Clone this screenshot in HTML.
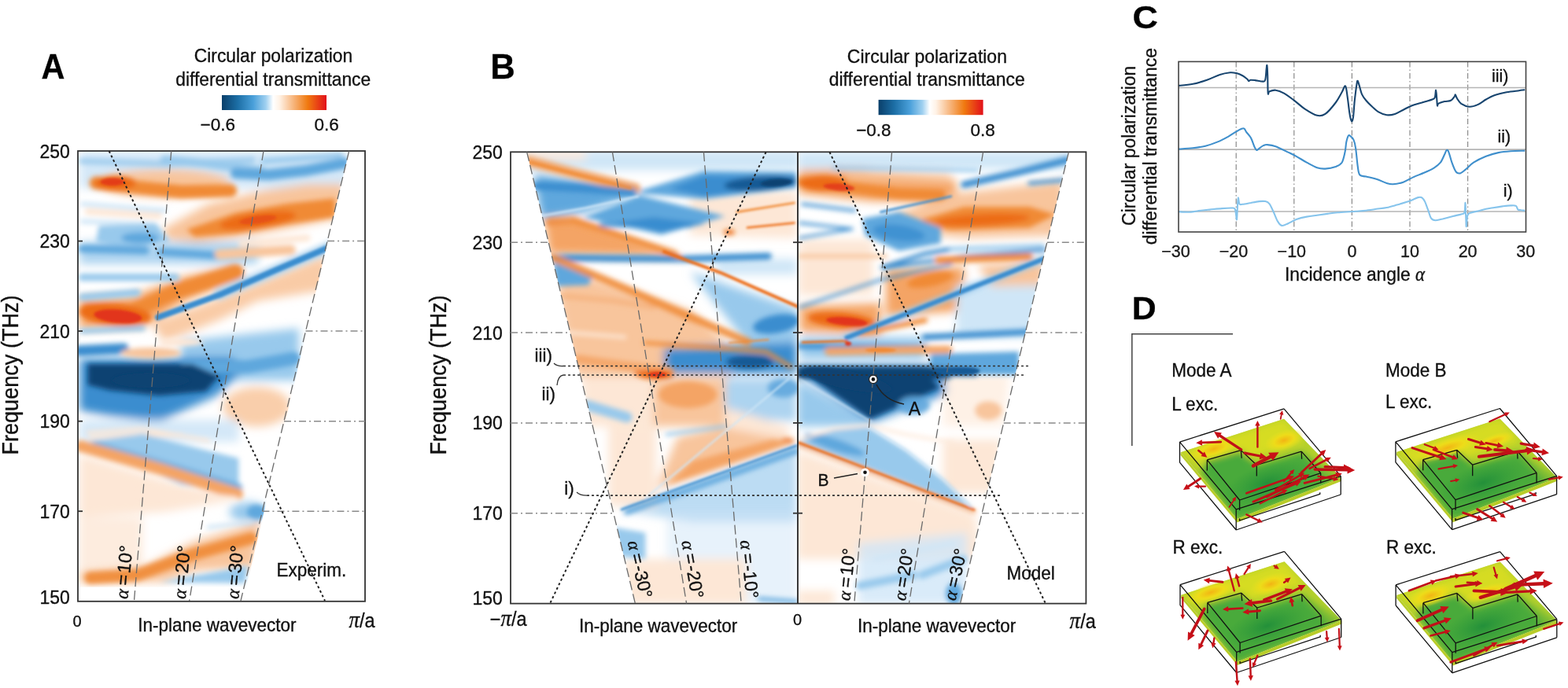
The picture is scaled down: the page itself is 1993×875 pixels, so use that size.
<!DOCTYPE html>
<html><head><meta charset="utf-8"><title>Figure</title>
<style>html,body{margin:0;padding:0;background:#fff;} svg{display:block;} text{stroke:#111;stroke-width:0.32px;}</style></head>
<body><svg width="1993" height="875" viewBox="0 0 1993 875">
<rect width="1993" height="875" fill="#fff"/>
<defs>
<filter id="fb0" filterUnits="userSpaceOnUse" x="0" y="0" width="1993" height="875"><feGaussianBlur stdDeviation="6"/></filter>
<filter id="fb1" filterUnits="userSpaceOnUse" x="0" y="0" width="1993" height="875"><feGaussianBlur stdDeviation="3.2"/></filter>
<filter id="fb2" filterUnits="userSpaceOnUse" x="0" y="0" width="1993" height="875"><feGaussianBlur stdDeviation="1.6"/></filter>
<clipPath id="clipA"><polygon points="99,192 443.7,192 312.9,746.8 99,746.8"/></clipPath>
<clipPath id="clipBL"><polygon points="669.6,193.3 1014,193.3 1014,767.6 807.4,767.6"/></clipPath>
<clipPath id="clipBR"><polygon points="1014,193.3 1358.4,193.3 1220.6,767.6 1014,767.6"/></clipPath>
</defs>
<g clip-path="url(#clipA)">
<g filter="url(#fb0)"><polygon points="101.1,192.3 442.8,192.3 442.8,239.7 101.1,239.7" fill="#cfe6f7" fill-opacity="0.9"/><ellipse cx="209.2" cy="232.8" rx="83.7" ry="18.1" fill="#f8c59c" fill-opacity="1" transform="rotate(0 209.2 232.8)"/><polygon points="205.7,292.0 265.0,259.3 334.7,242.5 390.5,234.2 437.9,234.2 437.9,276.0 390.5,285.8 320.8,299.7 251.0,308.1 212.7,303.9" fill="#f8c59c" fill-opacity="1"/><polygon points="101.1,307.4 327.8,307.4 327.8,336.0 101.1,336.0" fill="#98c9ec" fill-opacity="0.8"/><polygon points="101.1,379.2 167.4,376.4 230.1,352.7 299.9,337.4 310.3,352.7 237.1,382.0 181.3,415.5 101.1,418.3" fill="#f4a465" fill-opacity="1"/><polygon points="191.8,410.6 278.9,379.2 414.9,323.4 414.9,368.7 327.8,382.7 278.9,407.1 209.2,435.0" fill="#f8c59c" fill-opacity="0.9"/><polygon points="230.1,433.6 380.1,417.6 380.1,483.8 230.1,483.8" fill="#98c9ec" fill-opacity="1"/><polygon points="101.1,455.9 296.4,454.5 303.3,476.8 275.5,503.3 202.2,536.1 139.5,529.1 101.1,522.2" fill="#3a8dcf" fill-opacity="1"/><ellipse cx="326.4" cy="517.3" rx="43.2" ry="25.1" fill="#f8c59c" fill-opacity="0.85" transform="rotate(0 326.4 517.3)"/><polygon points="101.1,534.0 303.3,534.0 303.3,561.9 101.1,561.9" fill="#cfe6f7" fill-opacity="0.9"/><polygon points="101.1,577.9 209.2,610.7 299.9,635.8 209.2,651.2 101.1,658.1" fill="#fde7d6" fill-opacity="1"/><polygon points="101.1,658.1 181.3,658.1 181.3,724.4 101.1,724.4" fill="#fde7d6" fill-opacity="0.8"/><ellipse cx="315.2" cy="651.2" rx="23.7" ry="12.6" fill="#98c9ec" fill-opacity="1" transform="rotate(0 315.2 651.2)"/><polygon points="101.1,726.5 181.3,722.3 244.1,689.5 331.2,661.6 322.2,722.3 251.0,725.8 209.2,739.7 101.1,741.8" fill="#f8c59c" fill-opacity="1"/></g>
<g filter="url(#fb1)"><polyline points="104.6,204.9 209.2,208.4 320.8,203.5" fill="none" stroke="#98c9ec" stroke-width="8.368200836820083" stroke-opacity="0.8" stroke-linecap="round" stroke-linejoin="round"/><polyline points="209.2,203.5 260.1,207.7 331.9,217.4" fill="none" stroke="#98c9ec" stroke-width="11.157601115760112" stroke-opacity="1" stroke-linecap="round" stroke-linejoin="round"/><polyline points="299.9,220.2 341.7,222.3 390.5,216.7 437.9,207.7" fill="none" stroke="#5fa7dd" stroke-width="13.94700139470014" stroke-opacity="1" stroke-linecap="round" stroke-linejoin="round"/><polyline points="334.7,204.9 432.4,197.9" fill="none" stroke="#98c9ec" stroke-width="6.97350069735007" stroke-opacity="1" stroke-linecap="round" stroke-linejoin="round"/><polyline points="122.0,232.8 174.3,238.3 230.1,243.9 292.9,242.5" fill="none" stroke="#f08a35" stroke-width="16.736401673640167" stroke-opacity="1" stroke-linecap="round" stroke-linejoin="round"/><ellipse cx="146.4" cy="232.8" rx="26.5" ry="9.1" fill="#ec6c14" fill-opacity="1" transform="rotate(0 146.4 232.8)"/><polygon points="237.1,292.0 299.9,270.4 362.6,259.3 425.4,252.3 425.4,276.0 362.6,285.8 299.9,296.9 247.6,301.1" fill="#f08a35" fill-opacity="1"/><ellipse cx="327.8" cy="280.2" rx="48.8" ry="9.8" fill="#ec6c14" fill-opacity="1" transform="rotate(-8 327.8 280.2)"/><polyline points="104.6,259.3 209.2,267.6" fill="none" stroke="#cfe6f7" stroke-width="5.578800557880056" stroke-opacity="1" stroke-linecap="round" stroke-linejoin="round"/><polyline points="104.6,281.6 195.3,285.1" fill="none" stroke="#cfe6f7" stroke-width="5.578800557880056" stroke-opacity="1" stroke-linecap="round" stroke-linejoin="round"/><polyline points="111.6,269.0 202.2,274.6" fill="none" stroke="#fde7d6" stroke-width="8.368200836820083" stroke-opacity="1" stroke-linecap="round" stroke-linejoin="round"/><polygon points="125.5,287.2 198.7,284.4 216.2,307.4 163.9,316.4 122.0,308.1" fill="#98c9ec" fill-opacity="1"/><ellipse cx="177.8" cy="302.5" rx="23.7" ry="7.0" fill="#5fa7dd" fill-opacity="1" transform="rotate(0 177.8 302.5)"/><polyline points="104.6,316.4 184.8,318.5" fill="none" stroke="#5fa7dd" stroke-width="9.762900976290098" stroke-opacity="1" stroke-linecap="round" stroke-linejoin="round"/><polyline points="205.7,320.6 275.5,324.8" fill="none" stroke="#5fa7dd" stroke-width="9.762900976290098" stroke-opacity="1" stroke-linecap="round" stroke-linejoin="round"/><polyline points="278.9,323.4 369.6,317.8" fill="none" stroke="#f8c59c" stroke-width="12.552301255230127" stroke-opacity="1" stroke-linecap="round" stroke-linejoin="round"/><polyline points="306.8,309.5 390.5,302.5" fill="none" stroke="#fde7d6" stroke-width="8.368200836820083" stroke-opacity="1" stroke-linecap="round" stroke-linejoin="round"/><polyline points="104.6,352.7 223.2,352.7" fill="none" stroke="#98c9ec" stroke-width="9.762900976290098" stroke-opacity="1" stroke-linecap="round" stroke-linejoin="round"/><polyline points="104.6,377.8 174.3,372.2" fill="none" stroke="#98c9ec" stroke-width="9.762900976290098" stroke-opacity="1" stroke-linecap="round" stroke-linejoin="round"/><polyline points="111.6,394.5 167.4,396.6 223.2,370.8 299.9,345.7" fill="none" stroke="#f08a35" stroke-width="18.13110181311018" stroke-opacity="1" stroke-linecap="round" stroke-linejoin="round"/><ellipse cx="146.4" cy="400.1" rx="46.0" ry="13.9" fill="#ec6c14" fill-opacity="1" transform="rotate(5 146.4 400.1)"/><polyline points="278.9,373.6 348.7,344.3 421.9,313.0" fill="none" stroke="#98c9ec" stroke-width="15.341701534170154" stroke-opacity="0.7" stroke-linecap="round" stroke-linejoin="round"/><polyline points="101.1,446.2 156.9,443.4" fill="none" stroke="#3a8dcf" stroke-width="13.94700139470014" stroke-opacity="1" stroke-linecap="round" stroke-linejoin="round"/><polyline points="104.6,421.0 181.3,417.6" fill="none" stroke="#98c9ec" stroke-width="6.97350069735007" stroke-opacity="1" stroke-linecap="round" stroke-linejoin="round"/><ellipse cx="191.8" cy="448.9" rx="38.4" ry="7.0" fill="#f8c59c" fill-opacity="1" transform="rotate(0 191.8 448.9)"/><ellipse cx="230.1" cy="435.0" rx="27.9" ry="4.9" fill="#fde7d6" fill-opacity="1" transform="rotate(0 230.1 435.0)"/><polyline points="237.1,466.4 313.8,466.4 373.1,455.9" fill="none" stroke="#5fa7dd" stroke-width="16.736401673640167" stroke-opacity="1" stroke-linecap="round" stroke-linejoin="round"/><polygon points="111.6,462.9 244.1,462.9 278.9,478.2 261.5,497.8 202.2,503.3 139.5,496.4 111.6,489.4" fill="#0a4272" fill-opacity="1"/><polyline points="115.1,557.0 174.3,552.1 230.1,553.5" fill="none" stroke="#fde7d6" stroke-width="4.881450488145049" stroke-opacity="1" stroke-linecap="round" stroke-linejoin="round"/><polygon points="106.7,561.9 181.3,552.1 303.3,582.8 303.3,628.2 230.1,616.3" fill="#98c9ec" fill-opacity="1"/><polyline points="122.0,566.1 209.2,591.2 303.3,619.8" fill="none" stroke="#5fa7dd" stroke-width="9.762900976290098" stroke-opacity="0.9" stroke-linecap="round" stroke-linejoin="round"/><polyline points="111.6,550.1 181.3,545.2 265.0,560.5" fill="none" stroke="#fde7d6" stroke-width="4.184100418410042" stroke-opacity="1" stroke-linecap="round" stroke-linejoin="round"/><polyline points="103.2,567.5 209.2,598.2 301.3,628.2" fill="none" stroke="#f4a465" stroke-width="15.341701534170154" stroke-opacity="1" stroke-linecap="round" stroke-linejoin="round"/><polyline points="181.3,626.8 278.9,631.6 299.9,633.7" fill="none" stroke="#fde7d6" stroke-width="5.578800557880056" stroke-opacity="1" stroke-linecap="round" stroke-linejoin="round"/><ellipse cx="326.4" cy="651.2" rx="12.6" ry="9.1" fill="#5fa7dd" fill-opacity="1" transform="rotate(0 326.4 651.2)"/><polyline points="265.0,670.7 320.8,663.7" fill="none" stroke="#cfe6f7" stroke-width="4.881450488145049" stroke-opacity="1" stroke-linecap="round" stroke-linejoin="round"/><polyline points="115.1,734.9 174.3,731.4 244.1,705.6 319.4,684.6" fill="none" stroke="#f08a35" stroke-width="15.341701534170154" stroke-opacity="0.9" stroke-linecap="round" stroke-linejoin="round"/><polygon points="202.2,740.4 315.2,719.5 311.7,741.8" fill="#98c9ec" fill-opacity="1"/></g>
<g filter="url(#fb2)"><ellipse cx="143.0" cy="231.4" rx="15.3" ry="4.9" fill="#e2361a" fill-opacity="0.9" transform="rotate(0 143.0 231.4)"/><ellipse cx="327.8" cy="279.5" rx="23.7" ry="4.9" fill="#e2361a" fill-opacity="0.5" transform="rotate(-8 327.8 279.5)"/><ellipse cx="149.9" cy="402.2" rx="30.7" ry="8.4" fill="#e2361a" fill-opacity="1" transform="rotate(5 149.9 402.2)"/><polyline points="200.8,403.6 278.9,375.0 348.7,344.3 421.9,313.0" fill="none" stroke="#3a8dcf" stroke-width="7.670850767085077" stroke-opacity="1" stroke-linecap="round" stroke-linejoin="round"/><ellipse cx="191.8" cy="483.8" rx="48.8" ry="9.8" fill="#0a4272" fill-opacity="0.9" transform="rotate(0 191.8 483.8)"/></g>
</g>
<g clip-path="url(#clipBL)">
<g filter="url(#fb0)"><polygon points="664.9,191.7 1016.4,191.7 1016.4,216.5 664.9,216.5" fill="#cfe6f7" fill-opacity="1"/><polygon points="668.2,193.3 744.5,193.3 744.5,203.3 668.2,203.3" fill="#fde7d6" fill-opacity="1"/><polygon points="678.2,221.5 744.5,229.8 810.8,243.1 810.8,248.0 744.5,269.6 688.1,277.9" fill="#5fa7dd" fill-opacity="1"/><polygon points="877.1,246.4 1013.0,243.1 1013.0,302.7 877.1,299.4" fill="#fde7d6" fill-opacity="1"/><polygon points="691.4,276.9 727.9,276.9 863.8,326.6 698.1,323.3" fill="#f4a465" fill-opacity="1"/><polygon points="708.0,339.2 877.1,395.6 930.1,442.0 930.1,478.5 731.2,478.5 711.3,388.9" fill="#f8c59c" fill-opacity="1"/><polygon points="877.1,345.8 1013.7,392.9 1013.7,437.0 950.0,437.0" fill="#98c9ec" fill-opacity="1"/><polygon points="910.3,329.3 1013.0,329.3 1013.0,349.2 910.3,349.2" fill="#cfe6f7" fill-opacity="1"/><polygon points="843.9,442.0 1013.0,435.4 1013.0,475.1 843.9,475.1" fill="#3a8dcf" fill-opacity="1"/><polygon points="739.4,478.4 830.5,478.4 830.5,542.5 742.8,542.5" fill="#fde7d6" fill-opacity="1"/><polygon points="830.5,481.7 921.6,481.7 921.6,542.5 830.5,542.5" fill="#f8c59c" fill-opacity="1"/><polygon points="921.6,481.7 1012.6,481.7 1012.6,535.7 921.6,532.3" fill="#98c9ec" fill-opacity="0.8"/><polygon points="921.6,518.8 1002.5,542.5 1002.5,566.1 921.6,562.7" fill="#fde7d6" fill-opacity="1"/><polygon points="833.9,621.7 1010.9,561.0 914.8,542.5 860.9,555.9" fill="#f8c59c" fill-opacity="1"/><polygon points="790.0,648.7 1012.6,566.1 1012.6,663.9 881.1,663.9" fill="#98c9ec" fill-opacity="0.65"/><polygon points="847.4,650.4 1012.6,650.4 1012.6,768.4 847.4,768.4" fill="#cfe6f7" fill-opacity="0.5"/><polygon points="773.2,542.5 833.9,542.5 833.9,643.6 773.2,643.6" fill="#fde7d6" fill-opacity="1"/><polygon points="793.4,711.1 948.5,711.1 948.5,768.4 793.4,768.4" fill="#fde7d6" fill-opacity="1"/></g>
<g filter="url(#fb1)"><polyline points="671.5,204.9 727.9,219.8 807.5,239.7" fill="none" stroke="#f4a465" stroke-width="13.26259946949602" stroke-opacity="1" stroke-linecap="round" stroke-linejoin="round"/><polyline points="681.5,236.4 744.5,239.7 804.2,244.7" fill="none" stroke="#3a8dcf" stroke-width="9.946949602122016" stroke-opacity="1" stroke-linecap="round" stroke-linejoin="round"/><polygon points="813.4,242.4 894.7,217.2 1012.0,218.8 1012.0,238.7 894.7,253.3 813.4,246.0" fill="#5fa7dd" fill-opacity="1"/><polygon points="850.6,239.7 894.7,223.2 1012.0,224.8 1012.0,236.4 894.7,249.7" fill="#3a8dcf" fill-opacity="1"/><ellipse cx="966.6" cy="233.1" rx="46.4" ry="9.3" fill="#135a95" fill-opacity="1" transform="rotate(-4 966.6 233.1)"/><polygon points="741.2,276.5 813.4,248.4 921.9,274.9 840.6,298.4" fill="#5fa7dd" fill-opacity="1"/><polygon points="784.3,282.8 830.7,276.2 897.0,284.5 840.6,295.4" fill="#3a8dcf" fill-opacity="1"/><polyline points="764.4,286.2 877.1,286.2" fill="none" stroke="#3a8dcf" stroke-width="6.63129973474801" stroke-opacity="0.8" stroke-linecap="round" stroke-linejoin="round"/><ellipse cx="926.8" cy="295.4" rx="7.3" ry="3.3" fill="#ec6c14" fill-opacity="1" transform="rotate(0 926.8 295.4)"/><polyline points="698.1,282.8 727.9,281.2 857.2,322.6" fill="none" stroke="#f08a35" stroke-width="8.620689655172415" stroke-opacity="0.8" stroke-linecap="round" stroke-linejoin="round"/><polyline points="701.4,327.6 777.6,328.6 870.5,329.3 976.6,325.9" fill="none" stroke="#3a8dcf" stroke-width="8.620689655172415" stroke-opacity="1" stroke-linecap="round" stroke-linejoin="round"/><polyline points="727.9,278.9 863.8,325.9" fill="none" stroke="#f08a35" stroke-width="4.641909814323608" stroke-opacity="1" stroke-linecap="round" stroke-linejoin="round"/><polygon points="703.0,332.6 754.4,349.2 747.8,362.4 706.3,364.1" fill="#5fa7dd" fill-opacity="1"/><polyline points="708.0,375.7 777.6,382.3 830.7,390.6" fill="none" stroke="#f4a465" stroke-width="6.63129973474801" stroke-opacity="0.5" stroke-linecap="round" stroke-linejoin="round"/><polyline points="703.0,327.6 810.8,374.0 950.0,434.7" fill="none" stroke="#f08a35" stroke-width="9.946949602122016" stroke-opacity="0.9" stroke-linecap="round" stroke-linejoin="round"/><ellipse cx="986.5" cy="412.1" rx="29.8" ry="11.6" fill="#3a8dcf" fill-opacity="1" transform="rotate(-10 986.5 412.1)"/><polyline points="820.1,436.0 925.8,443.6 973.9,447.6 1005.1,466.5" fill="none" stroke="#f08a35" stroke-width="4.641909814323608" stroke-opacity="1" stroke-linecap="round" stroke-linejoin="round"/><ellipse cx="953.4" cy="460.2" rx="29.8" ry="8.3" fill="#135a95" fill-opacity="1" transform="rotate(0 953.4 460.2)"/><polyline points="734.5,456.9 794.2,465.2 850.6,472.5" fill="none" stroke="#f4a465" stroke-width="11.273209549071618" stroke-opacity="0.9" stroke-linecap="round" stroke-linejoin="round"/><polyline points="711.3,422.1 794.2,428.7" fill="none" stroke="#fde7d6" stroke-width="4.641909814323608" stroke-opacity="1" stroke-linecap="round" stroke-linejoin="round"/><ellipse cx="830.7" cy="475.1" rx="24.9" ry="4.6" fill="#ec6c14" fill-opacity="1" transform="rotate(0 830.7 475.1)"/><ellipse cx="833.9" cy="477.7" rx="21.9" ry="4.7" fill="#ec6c14" fill-opacity="1" transform="rotate(0 833.9 477.7)"/><polyline points="746.2,515.5 796.8,530.6" fill="none" stroke="#98c9ec" stroke-width="13.49072512647555" stroke-opacity="1" stroke-linecap="round" stroke-linejoin="round"/><ellipse cx="874.3" cy="502.0" rx="37.1" ry="16.9" fill="#f4a465" fill-opacity="1" transform="rotate(0 874.3 502.0)"/><ellipse cx="995.8" cy="493.5" rx="20.2" ry="11.8" fill="#5fa7dd" fill-opacity="0.9" transform="rotate(0 995.8 493.5)"/><ellipse cx="1000.8" cy="561.0" rx="8.4" ry="3.4" fill="#ec6c14" fill-opacity="1" transform="rotate(0 1000.8 561.0)"/><polyline points="847.4,552.6 921.6,542.5" fill="none" stroke="#98c9ec" stroke-width="4.0472175379426645" stroke-opacity="1" stroke-linecap="round" stroke-linejoin="round"/><polygon points="847.4,616.7 1009.2,562.0 982.3,559.3 881.1,586.3" fill="#f4a465" fill-opacity="1"/><polyline points="796.8,651.1 1012.6,573.5" fill="none" stroke="#5fa7dd" stroke-width="7.419898819561552" stroke-opacity="1" stroke-linecap="round" stroke-linejoin="round"/><polygon points="779.9,670.6 820.4,677.4 820.4,711.1 786.7,707.7" fill="#98c9ec" fill-opacity="1"/><polyline points="965.4,761.7 1012.6,765.1" fill="none" stroke="#5fa7dd" stroke-width="4.7217537942664425" stroke-opacity="1" stroke-linecap="round" stroke-linejoin="round"/></g>
<g filter="url(#fb2)"><polyline points="674.8,206.6 744.5,224.8 800.8,239.1" fill="none" stroke="#f08a35" stroke-width="4.641909814323608" stroke-opacity="0.7" stroke-linecap="round" stroke-linejoin="round"/><polyline points="688.1,274.5 744.5,264.6 810.8,249.7" fill="none" stroke="#cfe6f7" stroke-width="2.6525198938992043" stroke-opacity="1" stroke-linecap="round" stroke-linejoin="round"/><ellipse cx="986.5" cy="232.4" rx="19.9" ry="4.6" fill="#0a4272" fill-opacity="1" transform="rotate(-4 986.5 232.4)"/><polyline points="936.8,269.6 1009.7,258.0" fill="none" stroke="#f08a35" stroke-width="2.6525198938992043" stroke-opacity="1" stroke-linecap="round" stroke-linejoin="round"/><polyline points="950.0,289.5 1009.7,283.5" fill="none" stroke="#ec6c14" stroke-width="2.6525198938992043" stroke-opacity="1" stroke-linecap="round" stroke-linejoin="round"/><polyline points="843.9,320.0 869.8,329.9 915.9,346.8 1013.7,389.9" fill="none" stroke="#ec6c14" stroke-width="3.9787798408488064" stroke-opacity="1" stroke-linecap="round" stroke-linejoin="round"/><polyline points="926.8,436.0 976.6,432.0" fill="none" stroke="#f08a35" stroke-width="1.9893899204244032" stroke-opacity="1" stroke-linecap="round" stroke-linejoin="round"/><ellipse cx="835.6" cy="475.8" rx="11.6" ry="2.7" fill="#e2361a" fill-opacity="1" transform="rotate(0 835.6 475.8)"/><ellipse cx="835.6" cy="477.0" rx="11.8" ry="2.4" fill="#e2361a" fill-opacity="1" transform="rotate(0 835.6 477.0)"/><polyline points="790.0,648.0 1012.6,566.7" fill="none" stroke="#3a8dcf" stroke-width="2.69814502529511" stroke-opacity="1" stroke-linecap="round" stroke-linejoin="round"/><polyline points="1002.5,481.7 820.4,633.5" fill="none" stroke="#cfe6f7" stroke-width="2.0236087689713322" stroke-opacity="1" stroke-linecap="round" stroke-linejoin="round"/></g>
</g>
<g clip-path="url(#clipBR)">
<g filter="url(#fb0)"><polygon points="1013.3,193.3 1361.5,193.3 1361.5,214.9 1013.3,214.9" fill="#cfe6f7" fill-opacity="1"/><polygon points="1015.0,216.5 1092.9,214.9 1215.6,229.8 1215.6,256.3 1109.5,256.3 1015.0,246.4" fill="#f4a465" fill-opacity="1"/><polygon points="1076.3,215.9 1208.9,219.8 1208.9,233.1 1076.3,229.8" fill="#f8c59c" fill-opacity="0.8"/><polygon points="1136.0,272.9 1208.9,246.4 1351.5,229.8 1351.5,299.4 1225.5,302.7 1159.2,296.1" fill="#f8c59c" fill-opacity="1"/><polygon points="1015.0,304.4 1109.5,304.4 1109.5,375.7 1015.0,375.7" fill="#fde7d6" fill-opacity="1"/><polygon points="1126.0,342.5 1225.5,339.2 1225.5,395.6 1126.0,402.2" fill="#f4a465" fill-opacity="1"/><polygon points="1016.6,388.9 1119.4,385.6 1119.4,425.4 1016.6,422.1" fill="#f4a465" fill-opacity="1"/><polygon points="1215.6,362.4 1325.0,355.8 1325.0,428.7 1215.6,428.7" fill="#cfe6f7" fill-opacity="1"/><polygon points="1242.1,337.5 1326.6,330.9 1326.6,362.4 1262.0,364.1" fill="#f8c59c" fill-opacity="1"/><polygon points="1016.6,428.7 1175.8,428.7 1175.8,456.9 1016.6,456.9" fill="#98c9ec" fill-opacity="1"/><polygon points="1013.4,464.9 1198.9,464.9 1203.9,500.3 1107.8,537.4 1013.4,475.0" fill="#3a8dcf" fill-opacity="1"/><polygon points="1013.4,483.4 1107.8,535.7 1107.8,542.5 1013.4,542.5" fill="#98c9ec" fill-opacity="1"/><polygon points="1198.9,475.0 1283.2,475.0 1276.4,542.5 1198.9,542.5" fill="#fde7d6" fill-opacity="0.6"/><polygon points="1013.4,572.8 1239.3,653.8 1246.1,711.1 1013.4,711.1" fill="#fde7d6" fill-opacity="1"/><polygon points="1198.9,559.3 1273.1,559.3 1266.3,626.8 1198.9,626.8" fill="#fde7d6" fill-opacity="1"/><polygon points="1090.9,690.9 1229.2,677.4 1229.2,768.4 1090.9,768.4" fill="#cfe6f7" fill-opacity="0.8"/><polygon points="1013.4,751.6 1060.6,751.6 1060.6,770.1 1013.4,770.1" fill="#fde7d6" fill-opacity="1"/></g>
<g filter="url(#fb1)"><polyline points="1059.7,213.2 1159.2,214.9 1242.1,216.5" fill="none" stroke="#98c9ec" stroke-width="3.9787798408488064" stroke-opacity="1" stroke-linecap="round" stroke-linejoin="round"/><polyline points="1225.5,234.8 1291.8,219.8 1358.1,203.3" fill="none" stroke="#3a8dcf" stroke-width="8.620689655172415" stroke-opacity="1" stroke-linecap="round" stroke-linejoin="round"/><polyline points="1308.4,233.1 1351.5,229.1" fill="none" stroke="#3a8dcf" stroke-width="4.641909814323608" stroke-opacity="1" stroke-linecap="round" stroke-linejoin="round"/><polyline points="1019.9,231.4 1076.3,238.1 1142.6,246.4 1195.7,248.0" fill="none" stroke="#f08a35" stroke-width="13.26259946949602" stroke-opacity="1" stroke-linecap="round" stroke-linejoin="round"/><ellipse cx="1046.5" cy="233.1" rx="29.8" ry="9.3" fill="#ec6c14" fill-opacity="1" transform="rotate(0 1046.5 233.1)"/><polygon points="1159.2,282.8 1225.5,262.9 1308.4,262.9 1341.6,272.9 1308.4,289.5 1208.9,292.8" fill="#f08a35" fill-opacity="1"/><ellipse cx="1248.7" cy="279.5" rx="59.7" ry="7.3" fill="#ec6c14" fill-opacity="1" transform="rotate(-3 1248.7 279.5)"/><polyline points="1019.9,259.6 1086.3,267.9" fill="none" stroke="#3a8dcf" stroke-width="3.9787798408488064" stroke-opacity="1" stroke-linecap="round" stroke-linejoin="round"/><polyline points="1016.6,283.5 1082.9,291.1" fill="none" stroke="#3a8dcf" stroke-width="3.315649867374005" stroke-opacity="1" stroke-linecap="round" stroke-linejoin="round"/><polyline points="1016.6,302.7 1082.9,291.1" fill="none" stroke="#3a8dcf" stroke-width="3.315649867374005" stroke-opacity="1" stroke-linecap="round" stroke-linejoin="round"/><polygon points="1096.2,277.9 1142.6,269.6 1195.7,289.5 1195.7,309.4 1142.6,319.3 1099.5,299.4" fill="#5fa7dd" fill-opacity="1"/><ellipse cx="1142.6" cy="296.1" rx="33.2" ry="9.9" fill="#3a8dcf" fill-opacity="0.8" transform="rotate(8 1142.6 296.1)"/><polyline points="1016.6,325.9 1126.0,325.9" fill="none" stroke="#f8c59c" stroke-width="4.641909814323608" stroke-opacity="1" stroke-linecap="round" stroke-linejoin="round"/><polyline points="1122.7,340.9 1225.5,325.9 1328.3,317.7" fill="none" stroke="#3a8dcf" stroke-width="4.641909814323608" stroke-opacity="1" stroke-linecap="round" stroke-linejoin="round"/><polyline points="1016.6,390.6 1119.4,355.8 1208.9,335.9" fill="none" stroke="#3a8dcf" stroke-width="3.315649867374005" stroke-opacity="1" stroke-linecap="round" stroke-linejoin="round"/><polyline points="1076.3,429.4 1175.8,389.6 1242.1,363.1 1326.6,329.3" fill="none" stroke="#98c9ec" stroke-width="11.273209549071618" stroke-opacity="0.7" stroke-linecap="round" stroke-linejoin="round"/><polyline points="1192.4,330.9 1308.4,326.6" fill="none" stroke="#f08a35" stroke-width="8.620689655172415" stroke-opacity="1" stroke-linecap="round" stroke-linejoin="round"/><ellipse cx="1182.4" cy="355.8" rx="29.8" ry="8.3" fill="#f08a35" fill-opacity="1" transform="rotate(-12 1182.4 355.8)"/><ellipse cx="1069.7" cy="407.2" rx="43.1" ry="9.9" fill="#ec6c14" fill-opacity="1" transform="rotate(5 1069.7 407.2)"/><polyline points="1092.9,423.8 1175.8,407.2" fill="none" stroke="#f08a35" stroke-width="6.63129973474801" stroke-opacity="1" stroke-linecap="round" stroke-linejoin="round"/><polyline points="1122.1,339.9 1175.8,322.6 1208.9,316.7" fill="none" stroke="#3a8dcf" stroke-width="5.305039787798409" stroke-opacity="1" stroke-linecap="round" stroke-linejoin="round"/><polyline points="1208.9,316.7 1325.0,312.7" fill="none" stroke="#98c9ec" stroke-width="5.305039787798409" stroke-opacity="1" stroke-linecap="round" stroke-linejoin="round"/><polyline points="1175.8,428.7 1308.4,422.1" fill="none" stroke="#3a8dcf" stroke-width="7.957559681697613" stroke-opacity="1" stroke-linecap="round" stroke-linejoin="round"/><polyline points="1016.6,440.3 1175.8,442.0" fill="none" stroke="#3a8dcf" stroke-width="6.63129973474801" stroke-opacity="1" stroke-linecap="round" stroke-linejoin="round"/><polyline points="1053.1,447.0 1142.6,445.3 1205.6,444.6" fill="none" stroke="#f4a465" stroke-width="9.946949602122016" stroke-opacity="1" stroke-linecap="round" stroke-linejoin="round"/><polygon points="1182.4,450.3 1295.1,447.0 1295.1,476.8 1182.4,476.8" fill="#5fa7dd" fill-opacity="1"/><polygon points="1013.3,466.5 1199.0,466.5 1208.9,481.8 1013.3,481.8" fill="#0a4272" fill-opacity="1"/><polygon points="1195.7,467.9 1242.1,467.9 1242.1,478.5 1195.7,478.5" fill="#135a95" fill-opacity="1"/><polygon points="1023.5,466.2 1171.9,466.2 1193.8,493.5 1106.1,533.0 1023.5,475.0" fill="#0a4272" fill-opacity="1"/><ellipse cx="1161.8" cy="515.5" rx="20.2" ry="11.8" fill="#5fa7dd" fill-opacity="0.9" transform="rotate(0 1161.8 515.5)"/><ellipse cx="1256.2" cy="522.2" rx="16.9" ry="11.8" fill="#f8c59c" fill-opacity="1" transform="rotate(0 1256.2 522.2)"/><polygon points="1016.7,561.3 1060.6,547.2 1103.4,543.1 1151.7,572.8 1198.9,609.9 1237.3,647.7 1144.9,611.6 1077.5,585.6 1016.7,562.7" fill="#98c9ec" fill-opacity="1"/><ellipse cx="1060.6" cy="565.4" rx="40.5" ry="7.4" fill="#5fa7dd" fill-opacity="1" transform="rotate(18 1060.6 565.4)"/><polyline points="1016.7,559.3 1060.6,545.2 1104.4,540.8 1151.7,552.6 1212.4,563.4" fill="none" stroke="#fde7d6" stroke-width="3.3726812816188874" stroke-opacity="1" stroke-linecap="round" stroke-linejoin="round"/><polyline points="1015.1,565.4 1077.5,589.0 1144.9,615.0 1238.0,650.4" fill="none" stroke="#f4a465" stroke-width="5.39629005059022" stroke-opacity="0.8" stroke-linecap="round" stroke-linejoin="round"/><polyline points="1093.0,744.8 1161.1,731.3" fill="none" stroke="#98c9ec" stroke-width="10.118043844856661" stroke-opacity="1" stroke-linecap="round" stroke-linejoin="round"/><polyline points="1171.9,731.3 1224.2,711.1" fill="none" stroke="#98c9ec" stroke-width="10.118043844856661" stroke-opacity="1" stroke-linecap="round" stroke-linejoin="round"/><polyline points="1111.2,711.1 1212.4,690.9" fill="none" stroke="#cfe6f7" stroke-width="4.7217537942664425" stroke-opacity="1" stroke-linecap="round" stroke-linejoin="round"/><ellipse cx="1212.4" cy="754.9" rx="10.1" ry="13.5" fill="#5fa7dd" fill-opacity="1" transform="rotate(0 1212.4 754.9)"/></g>
<g filter="url(#fb2)"><ellipse cx="1066.4" cy="238.1" rx="19.9" ry="4.6" fill="#e2361a" fill-opacity="0.8" transform="rotate(5 1066.4 238.1)"/><polyline points="1119.4,269.6 1208.9,249.7" fill="none" stroke="#3a8dcf" stroke-width="2.6525198938992043" stroke-opacity="1" stroke-linecap="round" stroke-linejoin="round"/><polyline points="1076.3,429.4 1175.8,389.6 1242.1,363.1 1326.6,329.3" fill="none" stroke="#3a8dcf" stroke-width="5.968169761273209" stroke-opacity="1" stroke-linecap="round" stroke-linejoin="round"/><ellipse cx="1076.3" cy="408.8" rx="26.5" ry="5.3" fill="#e2361a" fill-opacity="1" transform="rotate(5 1076.3 408.8)"/><polyline points="1019.9,435.4 1076.3,433.7" fill="none" stroke="#ec6c14" stroke-width="2.6525198938992043" stroke-opacity="1" stroke-linecap="round" stroke-linejoin="round"/><ellipse cx="1078.0" cy="437.0" rx="4.0" ry="2.7" fill="#e2361a" fill-opacity="1" transform="rotate(0 1078.0 437.0)"/><ellipse cx="1119.4" cy="445.3" rx="19.9" ry="2.7" fill="#f08a35" fill-opacity="1" transform="rotate(0 1119.4 445.3)"/><ellipse cx="1215.6" cy="471.8" rx="29.8" ry="4.6" fill="#135a95" fill-opacity="1" transform="rotate(0 1215.6 471.8)"/><ellipse cx="1077.5" cy="483.4" rx="57.3" ry="11.8" fill="#0a4272" fill-opacity="0.8" transform="rotate(12 1077.5 483.4)"/><polyline points="1016.7,482.4 1107.8,536.4" fill="none" stroke="#cfe6f7" stroke-width="1.6863406408094437" stroke-opacity="1" stroke-linecap="round" stroke-linejoin="round"/><polyline points="1103.4,542.5 1151.7,572.8 1198.9,609.9 1237.3,647.7" fill="none" stroke="#cfe6f7" stroke-width="1.6863406408094437" stroke-opacity="1" stroke-linecap="round" stroke-linejoin="round"/><polyline points="1015.1,563.0 1077.5,586.6 1144.9,612.6 1238.0,648.4" fill="none" stroke="#ec6c14" stroke-width="3.0354131534569984" stroke-opacity="1" stroke-linecap="round" stroke-linejoin="round"/></g>
</g>
<defs><linearGradient id="cbar" x1="0" x2="1" y1="0" y2="0"><stop offset="0" stop-color="#0a3f6a"/><stop offset="0.15" stop-color="#1c6ea5"/><stop offset="0.3" stop-color="#4aa0da"/><stop offset="0.42" stop-color="#9fd0f0"/><stop offset="0.49" stop-color="#ffffff"/><stop offset="0.55" stop-color="#fff2e6"/><stop offset="0.7" stop-color="#f6ae70"/><stop offset="0.82" stop-color="#f07a10"/><stop offset="1" stop-color="#e2101a"/></linearGradient></defs>
<text transform="translate(52.6,100) scale(0.93,1)" font-size="44.5" font-weight="bold" fill="#000" style='font-family:"Liberation Sans", Arial, sans-serif'>A</text>
<text transform="translate(246.8,79.4) scale(1,1.06)" font-size="22.8" text-anchor="start" font-weight="normal" fill="#111" style='font-family:"Liberation Sans", Arial, sans-serif;' >Circular polarization</text>
<text transform="translate(223.3,108.5) scale(1,1.06)" font-size="22.8" text-anchor="start" font-weight="normal" fill="#111" style='font-family:"Liberation Sans", Arial, sans-serif;' >differential transmittance</text>
<rect x="282" y="121" width="133" height="19" fill="url(#cbar)"/>
<text transform="translate(254.5,166.3) scale(1,1.0)" font-size="22.5" text-anchor="start" font-weight="normal" fill="#111" style='font-family:"Liberation Sans", Arial, sans-serif;' >−0.6</text>
<text transform="translate(399.5,166.3) scale(1,1.0)" font-size="22.5" text-anchor="start" font-weight="normal" fill="#111" style='font-family:"Liberation Sans", Arial, sans-serif;' >0.6</text>
<rect x="99" y="192" width="365" height="572.8" fill="none" stroke="#333" stroke-width="1.8"/>
<text transform="translate(88.8,200.5) scale(1,1.0)" font-size="23" text-anchor="end" font-weight="normal" fill="#111" style='font-family:"Liberation Sans", Arial, sans-serif;' >250</text>
<text transform="translate(88.8,315.1) scale(1,1.0)" font-size="23" text-anchor="end" font-weight="normal" fill="#111" style='font-family:"Liberation Sans", Arial, sans-serif;' >230</text>
<line x1="99.0" y1="306.6" x2="105.0" y2="306.6" stroke="#333" stroke-width="1.8" />
<text transform="translate(88.8,429.6) scale(1,1.0)" font-size="23" text-anchor="end" font-weight="normal" fill="#111" style='font-family:"Liberation Sans", Arial, sans-serif;' >210</text>
<line x1="99.0" y1="421.1" x2="105.0" y2="421.1" stroke="#333" stroke-width="1.8" />
<text transform="translate(88.8,544.2) scale(1,1.0)" font-size="23" text-anchor="end" font-weight="normal" fill="#111" style='font-family:"Liberation Sans", Arial, sans-serif;' >190</text>
<line x1="99.0" y1="535.7" x2="105.0" y2="535.7" stroke="#333" stroke-width="1.8" />
<text transform="translate(88.8,658.7) scale(1,1.0)" font-size="23" text-anchor="end" font-weight="normal" fill="#111" style='font-family:"Liberation Sans", Arial, sans-serif;' >170</text>
<line x1="99.0" y1="650.2" x2="105.0" y2="650.2" stroke="#333" stroke-width="1.8" />
<text transform="translate(88.8,767.6) scale(1,1.0)" font-size="23" text-anchor="end" font-weight="normal" fill="#111" style='font-family:"Liberation Sans", Arial, sans-serif;' >150</text>
<text transform="translate(22.9,477) rotate(-90) scale(1,1.085)" font-size="27.1" text-anchor="middle" fill="#111" style='font-family:"Liberation Sans", Arial, sans-serif'>Frequency (THz)</text>
<line x1="416.1" y1="306.6" x2="464.0" y2="306.6" stroke="#8a8a8a" stroke-width="1.5" stroke-dasharray="9 4 2 4" />
<line x1="388.5" y1="421.1" x2="464.0" y2="421.1" stroke="#8a8a8a" stroke-width="1.5" stroke-dasharray="9 4 2 4" />
<line x1="361.0" y1="535.7" x2="464.0" y2="535.7" stroke="#8a8a8a" stroke-width="1.5" stroke-dasharray="9 4 2 4" />
<line x1="333.4" y1="650.2" x2="464.0" y2="650.2" stroke="#8a8a8a" stroke-width="1.5" stroke-dasharray="9 4 2 4" />
<line x1="217.7" y1="192.0" x2="170.5" y2="764.0" stroke="#6a6a6a" stroke-width="1.3" stroke-dasharray="12 5" />
<line x1="335.0" y1="192.0" x2="240.7" y2="764.0" stroke="#6a6a6a" stroke-width="1.3" stroke-dasharray="12 5" />
<line x1="443.7" y1="192.0" x2="306.0" y2="764.0" stroke="#6a6a6a" stroke-width="1.3" stroke-dasharray="12 5" />
<line x1="138.6" y1="192.0" x2="413.0" y2="764.0" stroke="#222" stroke-width="2" stroke-dasharray="3 3.2" />
<text transform="translate(157.5,727.5) rotate(-84.5)" font-size="23.5" text-anchor="middle" dominant-baseline="central" fill="#111" style='font-family:"Liberation Sans", Arial, sans-serif'><tspan font-family="Liberation Serif, serif" font-style="italic">α</tspan> = 10°</text>
<text transform="translate(231.0,727.5) rotate(-84.5)" font-size="23.5" text-anchor="middle" dominant-baseline="central" fill="#111" style='font-family:"Liberation Sans", Arial, sans-serif'><tspan font-family="Liberation Serif, serif" font-style="italic">α</tspan> = 20°</text>
<text transform="translate(298.5,727.5) rotate(-84.5)" font-size="23.5" text-anchor="middle" dominant-baseline="central" fill="#111" style='font-family:"Liberation Sans", Arial, sans-serif'><tspan font-family="Liberation Serif, serif" font-style="italic">α</tspan> = 30°</text>
<text transform="translate(92.5,796.6) scale(1,1.0)" font-size="20" text-anchor="start" font-weight="normal" fill="#111" style='font-family:"Liberation Sans", Arial, sans-serif;' >0</text>
<text transform="translate(175.3,802.5) scale(1,1.06)" font-size="22.5" text-anchor="start" font-weight="normal" fill="#111" style='font-family:"Liberation Sans", Arial, sans-serif;' >In-plane wavevector</text>
<text transform="translate(443.5,798.3) scale(1,1.06)" font-size="23.5" text-anchor="start" font-weight="normal" fill="#111" style='font-family:"Liberation Sans", Arial, sans-serif;' ><tspan font-family="Liberation Serif, serif" font-style="italic" font-size="27">π</tspan>/a</text>
<text transform="translate(351.5,732.8) scale(1,1.06)" font-size="22.5" text-anchor="start" font-weight="normal" fill="#111" style='font-family:"Liberation Sans", Arial, sans-serif;' >Experim.</text>
<text transform="translate(623.2,100) scale(0.98,1)" font-size="44.5" font-weight="bold" fill="#000" style='font-family:"Liberation Sans", Arial, sans-serif'>B</text>
<text transform="translate(1076.8,79.7) scale(1,1.06)" font-size="23" text-anchor="start" font-weight="normal" fill="#111" style='font-family:"Liberation Sans", Arial, sans-serif;' >Circular polarization</text>
<text transform="translate(1053.8,108.7) scale(1,1.06)" font-size="22.9" text-anchor="start" font-weight="normal" fill="#111" style='font-family:"Liberation Sans", Arial, sans-serif;' >differential transmittance</text>
<rect x="1116.6" y="126.9" width="133" height="19.3" fill="url(#cbar)"/>
<text transform="translate(1088.2,172.5) scale(1,1.0)" font-size="22.5" text-anchor="start" font-weight="normal" fill="#111" style='font-family:"Liberation Sans", Arial, sans-serif;' >−0.8</text>
<text transform="translate(1233.5,172.5) scale(1,1.0)" font-size="22.5" text-anchor="start" font-weight="normal" fill="#111" style='font-family:"Liberation Sans", Arial, sans-serif;' >0.8</text>
<rect x="649" y="193.3" width="731.4" height="574.3" fill="none" stroke="#333" stroke-width="1.8"/>
<line x1="1014.0" y1="193.3" x2="1014.0" y2="767.6" stroke="#222" stroke-width="1.8" />
<text transform="translate(638.8,201.8) scale(1,1.0)" font-size="23" text-anchor="end" font-weight="normal" fill="#111" style='font-family:"Liberation Sans", Arial, sans-serif;' >250</text>
<text transform="translate(638.8,316.7) scale(1,1.0)" font-size="23" text-anchor="end" font-weight="normal" fill="#111" style='font-family:"Liberation Sans", Arial, sans-serif;' >230</text>
<text transform="translate(638.8,431.5) scale(1,1.0)" font-size="23" text-anchor="end" font-weight="normal" fill="#111" style='font-family:"Liberation Sans", Arial, sans-serif;' >210</text>
<text transform="translate(638.8,546.4) scale(1,1.0)" font-size="23" text-anchor="end" font-weight="normal" fill="#111" style='font-family:"Liberation Sans", Arial, sans-serif;' >190</text>
<text transform="translate(638.8,661.2) scale(1,1.0)" font-size="23" text-anchor="end" font-weight="normal" fill="#111" style='font-family:"Liberation Sans", Arial, sans-serif;' >170</text>
<text transform="translate(638.8,769.2) scale(1,1.0)" font-size="23" text-anchor="end" font-weight="normal" fill="#111" style='font-family:"Liberation Sans", Arial, sans-serif;' >150</text>
<text transform="translate(567.2,477) rotate(-90) scale(1,1.085)" font-size="27.1" text-anchor="middle" fill="#111" style='font-family:"Liberation Sans", Arial, sans-serif'>Frequency (THz)</text>
<line x1="649.0" y1="308.2" x2="697.2" y2="308.2" stroke="#8a8a8a" stroke-width="1.5" stroke-dasharray="9 4 2 4" />
<line x1="1330.8" y1="308.2" x2="1380.4" y2="308.2" stroke="#8a8a8a" stroke-width="1.5" stroke-dasharray="9 4 2 4" />
<line x1="1008.0" y1="308.2" x2="1020.0" y2="308.2" stroke="#333" stroke-width="1.8" />
<line x1="649.0" y1="423.0" x2="724.7" y2="423.0" stroke="#8a8a8a" stroke-width="1.5" stroke-dasharray="9 4 2 4" />
<line x1="1303.3" y1="423.0" x2="1380.4" y2="423.0" stroke="#8a8a8a" stroke-width="1.5" stroke-dasharray="9 4 2 4" />
<line x1="1008.0" y1="423.0" x2="1020.0" y2="423.0" stroke="#333" stroke-width="1.8" />
<line x1="649.0" y1="537.9" x2="752.3" y2="537.9" stroke="#8a8a8a" stroke-width="1.5" stroke-dasharray="9 4 2 4" />
<line x1="1275.7" y1="537.9" x2="1380.4" y2="537.9" stroke="#8a8a8a" stroke-width="1.5" stroke-dasharray="9 4 2 4" />
<line x1="1008.0" y1="537.9" x2="1020.0" y2="537.9" stroke="#333" stroke-width="1.8" />
<line x1="649.0" y1="652.7" x2="779.8" y2="652.7" stroke="#8a8a8a" stroke-width="1.5" stroke-dasharray="9 4 2 4" />
<line x1="1248.2" y1="652.7" x2="1380.4" y2="652.7" stroke="#8a8a8a" stroke-width="1.5" stroke-dasharray="9 4 2 4" />
<line x1="1008.0" y1="652.7" x2="1020.0" y2="652.7" stroke="#333" stroke-width="1.8" />
<line x1="669.6" y1="193.3" x2="807.4" y2="767.6" stroke="#6a6a6a" stroke-width="1.3" stroke-dasharray="12 5" />
<line x1="778.4" y1="193.3" x2="872.6" y2="767.6" stroke="#6a6a6a" stroke-width="1.3" stroke-dasharray="12 5" />
<line x1="894.4" y1="193.3" x2="942.2" y2="767.6" stroke="#6a6a6a" stroke-width="1.3" stroke-dasharray="12 5" />
<line x1="1133.6" y1="193.3" x2="1085.8" y2="767.6" stroke="#6a6a6a" stroke-width="1.3" stroke-dasharray="12 5" />
<line x1="1249.6" y1="193.3" x2="1155.4" y2="767.6" stroke="#6a6a6a" stroke-width="1.3" stroke-dasharray="12 5" />
<line x1="1358.4" y1="193.3" x2="1220.6" y2="767.6" stroke="#6a6a6a" stroke-width="1.3" stroke-dasharray="12 5" />
<line x1="973.6" y1="193.3" x2="699.0" y2="767.6" stroke="#222" stroke-width="2" stroke-dasharray="3 3.2" />
<line x1="1054.4" y1="193.3" x2="1329.0" y2="767.6" stroke="#222" stroke-width="2" stroke-dasharray="3 3.2" />
<line x1="716.0" y1="465.5" x2="1308.0" y2="465.5" stroke="#333" stroke-width="1.6" stroke-dasharray="3 3" />
<line x1="716.0" y1="477.0" x2="1302.0" y2="477.0" stroke="#333" stroke-width="1.6" stroke-dasharray="3 3" />
<line x1="746.0" y1="630.1" x2="1273.0" y2="630.1" stroke="#333" stroke-width="1.6" stroke-dasharray="3 3" />
<path d="M704,462 Q708,466 716,465.5" fill="none" stroke="#333" stroke-width="1.3"/>
<path d="M708,490 Q709,478 716,477" fill="none" stroke="#333" stroke-width="1.3"/>
<path d="M733,626 Q737,630 746,630.1" fill="none" stroke="#333" stroke-width="1.3"/>
<text transform="translate(679.5,460.0) scale(1,1.06)" font-size="22.5" text-anchor="start" font-weight="normal" fill="#111" style='font-family:"Liberation Sans", Arial, sans-serif;' >iii)</text>
<text transform="translate(688.5,508.7) scale(1,1.06)" font-size="22.5" text-anchor="start" font-weight="normal" fill="#111" style='font-family:"Liberation Sans", Arial, sans-serif;' >ii)</text>
<text transform="translate(717.3,628.5) scale(1,1.06)" font-size="22.5" text-anchor="start" font-weight="normal" fill="#111" style='font-family:"Liberation Sans", Arial, sans-serif;' >i)</text>
<path d="M1114,489 Q1124,509 1149,514" fill="none" stroke="#222" stroke-width="1.6"/>
<line x1="1060" y1="608" x2="1090" y2="602.5" stroke="#222" stroke-width="1.6"/>
<circle cx="1109.9" cy="482.4" r="5.3" fill="#fff" stroke="#222" stroke-width="1.2"/><circle cx="1109.9" cy="482.4" r="2.3" fill="#111"/>
<circle cx="1099.5" cy="600.8" r="5.3" fill="#fff"/><circle cx="1099.5" cy="600.8" r="2.3" fill="#111"/>
<text transform="translate(1154.8,527.6) scale(1,1.06)" font-size="23" text-anchor="start" font-weight="normal" fill="#111" style='font-family:"Liberation Sans", Arial, sans-serif;' >A</text>
<text transform="translate(1039.5,617.5) scale(1,1.06)" font-size="21" text-anchor="start" font-weight="normal" fill="#111" style='font-family:"Liberation Sans", Arial, sans-serif;' >B</text>
<text transform="translate(813.6,724.0) rotate(77)" font-size="23" text-anchor="middle" dominant-baseline="central" fill="#111" style='font-family:"Liberation Sans", Arial, sans-serif'><tspan font-family="Liberation Serif, serif" font-style="italic">α</tspan> = -30°</text>
<text transform="translate(880.6,724.0) rotate(80)" font-size="23" text-anchor="middle" dominant-baseline="central" fill="#111" style='font-family:"Liberation Sans", Arial, sans-serif'><tspan font-family="Liberation Serif, serif" font-style="italic">α</tspan> = -20°</text>
<text transform="translate(952.6,724.0) rotate(84)" font-size="23" text-anchor="middle" dominant-baseline="central" fill="#111" style='font-family:"Liberation Sans", Arial, sans-serif'><tspan font-family="Liberation Serif, serif" font-style="italic">α</tspan> = -10°</text>
<text transform="translate(1075.8,730.5) rotate(-84)" font-size="23" text-anchor="middle" dominant-baseline="central" fill="#111" style='font-family:"Liberation Sans", Arial, sans-serif'><tspan font-family="Liberation Serif, serif" font-style="italic">α</tspan> = 10°</text>
<text transform="translate(1148.3,730.5) rotate(-80.5)" font-size="23" text-anchor="middle" dominant-baseline="central" fill="#111" style='font-family:"Liberation Sans", Arial, sans-serif'><tspan font-family="Liberation Serif, serif" font-style="italic">α</tspan> = 20°</text>
<text transform="translate(1214.0,730.5) rotate(-77)" font-size="23" text-anchor="middle" dominant-baseline="central" fill="#111" style='font-family:"Liberation Sans", Arial, sans-serif'><tspan font-family="Liberation Serif, serif" font-style="italic">α</tspan> = 30°</text>
<text transform="translate(622.8,796.0) scale(1,1.06)" font-size="23.5" text-anchor="start" font-weight="normal" fill="#111" style='font-family:"Liberation Sans", Arial, sans-serif;' >−<tspan font-family="Liberation Serif, serif" font-style="italic" font-size="27">π</tspan>/a</text>
<text transform="translate(736.0,803.5) scale(1,1.06)" font-size="22.5" text-anchor="start" font-weight="normal" fill="#111" style='font-family:"Liberation Sans", Arial, sans-serif;' >In-plane wavevector</text>
<text transform="translate(1008.0,795.0) scale(1,1.0)" font-size="20" text-anchor="start" font-weight="normal" fill="#111" style='font-family:"Liberation Sans", Arial, sans-serif;' >0</text>
<text transform="translate(1090.0,803.5) scale(1,1.06)" font-size="22.5" text-anchor="start" font-weight="normal" fill="#111" style='font-family:"Liberation Sans", Arial, sans-serif;' >In-plane wavevector</text>
<text transform="translate(1359.6,798.5) scale(1,1.06)" font-size="23.5" text-anchor="start" font-weight="normal" fill="#111" style='font-family:"Liberation Sans", Arial, sans-serif;' ><tspan font-family="Liberation Serif, serif" font-style="italic" font-size="27">π</tspan>/a</text>
<text transform="translate(1279.6,736.8) scale(1,1.06)" font-size="22.5" text-anchor="start" font-weight="normal" fill="#111" style='font-family:"Liberation Sans", Arial, sans-serif;' >Model</text>
<text transform="translate(1439.6,35.6) scale(1.12,1)" font-size="40" font-weight="bold" fill="#000" style='font-family:"Liberation Sans", Arial, sans-serif'>C</text>
<line x1="1571.2" y1="78.4" x2="1571.2" y2="295.0" stroke="#8a8a8a" stroke-width="1.2" stroke-dasharray="7 3 1.5 3" />
<line x1="1644.8" y1="78.4" x2="1644.8" y2="295.0" stroke="#8a8a8a" stroke-width="1.2" stroke-dasharray="7 3 1.5 3" />
<line x1="1718.4" y1="78.4" x2="1718.4" y2="295.0" stroke="#8a8a8a" stroke-width="1.2" stroke-dasharray="7 3 1.5 3" />
<line x1="1792.0" y1="78.4" x2="1792.0" y2="295.0" stroke="#8a8a8a" stroke-width="1.2" stroke-dasharray="7 3 1.5 3" />
<line x1="1865.6" y1="78.4" x2="1865.6" y2="295.0" stroke="#8a8a8a" stroke-width="1.2" stroke-dasharray="7 3 1.5 3" />
<line x1="1498.0" y1="111.5" x2="1939.5" y2="111.5" stroke="#b5b5b5" stroke-width="1.6" />
<line x1="1498.0" y1="190.1" x2="1939.5" y2="190.1" stroke="#b5b5b5" stroke-width="1.6" />
<line x1="1498.0" y1="269.0" x2="1939.5" y2="269.0" stroke="#b5b5b5" stroke-width="1.6" />
<path d="M1497.9,108.9 C1501.0,108.6 1510.2,108.0 1516.3,106.8 C1522.4,105.6 1529.0,103.5 1534.7,101.5 C1540.4,99.6 1545.6,96.5 1550.5,95.0 C1555.3,93.4 1560.1,92.7 1563.6,92.3 C1567.1,92.0 1568.9,92.5 1571.5,93.1 C1574.1,93.8 1577.1,95.1 1579.4,96.3 C1581.7,97.5 1583.8,99.4 1585.2,100.5 C1586.5,101.6 1586.6,102.9 1587.3,103.1 C1588.0,103.3 1588.1,102.0 1589.4,101.8 C1590.7,101.6 1592.4,101.8 1595.2,102.1 C1597.9,102.4 1603.5,103.8 1605.7,103.6 C1607.9,103.5 1607.6,103.6 1608.3,101.0 C1609.0,98.5 1609.3,91.4 1609.6,88.4 C1610.0,85.4 1610.1,81.8 1610.4,83.1 C1610.7,84.5 1611.0,90.4 1611.2,96.3 C1611.4,102.2 1611.3,115.3 1611.7,118.6 C1612.1,122.0 1611.9,116.9 1613.6,116.3 C1615.2,115.6 1618.4,114.3 1621.4,114.7 C1624.5,115.1 1628.0,116.4 1632.0,118.6 C1635.9,120.8 1640.7,124.5 1645.1,127.8 C1649.5,131.1 1653.4,135.2 1658.2,138.3 C1663.1,141.5 1669.6,145.7 1674.0,146.8 C1678.4,147.9 1680.6,147.6 1684.5,144.9 C1688.5,142.2 1694.2,135.1 1697.7,130.5 C1701.2,125.9 1703.5,120.8 1705.6,117.3 C1707.6,113.8 1708.8,108.6 1710.0,109.4 C1711.2,110.3 1711.8,116.9 1712.6,122.6 C1713.5,128.3 1714.4,138.3 1715.3,143.6 C1716.1,148.9 1717.1,153.2 1717.9,154.1 C1718.7,155.0 1719.3,153.2 1720.0,148.9 C1720.6,144.5 1721.1,134.8 1721.8,127.8 C1722.6,120.8 1723.8,111.0 1724.5,106.8 C1725.1,102.6 1725.2,102.4 1725.8,102.9 C1726.3,103.3 1727.0,106.6 1727.9,109.4 C1728.8,112.3 1729.6,116.9 1731.0,119.9 C1732.4,123.0 1734.1,125.2 1736.3,127.8 C1738.5,130.5 1741.5,133.3 1744.2,135.7 C1746.8,138.1 1749.0,140.5 1752.1,142.3 C1755.1,144.0 1759.1,145.8 1762.6,146.2 C1766.1,146.7 1769.6,146.0 1773.1,144.9 C1776.6,143.8 1780.1,141.4 1783.6,139.7 C1787.1,137.9 1790.2,135.9 1794.1,134.4 C1798.1,132.9 1802.9,131.8 1807.3,130.5 C1811.6,129.1 1817.6,127.6 1820.4,126.5 C1823.2,125.4 1823.0,125.9 1823.8,123.9 C1824.6,121.9 1824.7,114.5 1825.1,114.7 C1825.5,114.9 1825.9,121.9 1826.2,125.2 C1826.5,128.5 1826.6,133.3 1827.0,134.4 C1827.3,135.5 1826.8,132.7 1828.3,131.8 C1829.8,130.9 1833.6,129.8 1836.2,129.1 C1838.8,128.5 1842.0,128.9 1844.1,127.8 C1846.2,126.7 1847.8,123.8 1848.8,122.6 C1849.8,121.3 1849.3,120.0 1849.9,120.5 C1850.4,120.9 1850.7,123.3 1852.0,125.2 C1853.2,127.1 1854.6,130.0 1857.2,131.8 C1859.8,133.5 1864.2,135.5 1867.7,135.7 C1871.2,135.9 1874.7,134.6 1878.2,133.1 C1881.7,131.6 1885.3,128.5 1888.8,126.5 C1892.3,124.5 1894.9,122.8 1899.3,121.3 C1903.7,119.7 1909.8,118.3 1915.0,117.3 C1920.3,116.3 1927.0,115.7 1930.8,115.2 C1934.7,114.7 1937.0,114.3 1938.2,114.2" fill="none" stroke="#18456f" stroke-width="2.1" stroke-linejoin="round"/>
<path d="M1497.9,189.6 C1501.0,189.4 1510.6,189.0 1516.3,188.3 C1522.0,187.6 1526.8,187.0 1532.1,185.7 C1537.3,184.4 1543.0,182.4 1547.8,180.4 C1552.7,178.4 1557.0,176.0 1561.0,173.8 C1564.9,171.6 1568.6,168.9 1571.5,167.3 C1574.3,165.6 1576.4,164.5 1578.1,163.8 C1579.7,163.2 1580.5,162.9 1581.5,163.6 C1582.5,164.2 1582.7,165.9 1584.1,167.8 C1585.5,169.7 1588.1,172.0 1589.9,175.2 C1591.6,178.4 1593.4,184.4 1594.6,187.0 C1595.9,189.6 1596.3,190.6 1597.3,190.9 C1598.2,191.2 1599.0,189.8 1600.4,188.8 C1601.8,187.9 1603.9,185.9 1605.7,185.1 C1607.4,184.4 1608.3,183.9 1610.9,184.1 C1613.6,184.3 1617.1,184.6 1621.4,186.2 C1625.8,187.8 1632.8,191.5 1637.2,193.6 C1641.6,195.7 1643.8,196.6 1647.7,198.8 C1651.7,201.0 1656.5,204.3 1660.9,206.7 C1665.3,209.1 1670.1,212.0 1674.0,213.3 C1678.0,214.6 1680.6,214.8 1684.5,214.6 C1688.5,214.4 1694.2,213.3 1697.7,212.0 C1701.2,210.6 1703.6,209.8 1705.6,206.7 C1707.5,203.6 1708.5,197.9 1709.5,193.6 C1710.5,189.2 1710.6,183.9 1711.3,180.4 C1712.1,176.9 1713.1,173.7 1713.9,172.5 C1714.8,171.3 1715.5,172.4 1716.6,173.3 C1717.7,174.2 1719.4,175.3 1720.5,177.8 C1721.6,180.3 1722.3,182.6 1723.1,188.3 C1724.0,194.0 1724.9,206.3 1725.8,212.0 C1726.6,217.7 1726.6,220.4 1728.4,222.5 C1730.2,224.6 1732.8,223.7 1736.3,224.6 C1739.8,225.5 1745.1,226.3 1749.4,227.7 C1753.8,229.1 1759.1,231.9 1762.6,233.0 C1766.1,234.1 1767.0,234.5 1770.5,234.3 C1774.0,234.1 1779.2,233.2 1783.6,231.7 C1788.0,230.1 1792.4,227.1 1796.8,225.1 C1801.1,223.1 1805.5,221.8 1809.9,219.8 C1814.3,217.9 1819.5,215.5 1823.0,213.3 C1826.5,211.1 1828.7,209.5 1830.9,206.7 C1833.1,203.9 1834.9,198.8 1836.2,196.2 C1837.5,193.6 1837.9,191.4 1838.8,190.9 C1839.7,190.5 1840.3,190.9 1841.4,193.6 C1842.5,196.2 1843.9,202.5 1845.4,206.7 C1846.9,210.9 1848.9,216.2 1850.6,218.5 C1852.4,220.8 1853.9,220.8 1855.9,220.4 C1857.9,219.9 1859.6,218.2 1862.5,215.9 C1865.3,213.6 1868.6,209.5 1873.0,206.7 C1877.4,203.9 1883.5,200.9 1888.8,198.8 C1894.0,196.7 1899.3,195.2 1904.5,194.1 C1909.8,193.0 1914.7,192.6 1920.3,192.2 C1925.9,191.8 1935.2,191.8 1938.2,191.7" fill="none" stroke="#3f8fcc" stroke-width="2.1" stroke-linejoin="round"/>
<path d="M1497.9,269.3 C1500.1,269.4 1507.1,269.9 1511.0,269.8 C1515.0,269.7 1517.2,269.0 1521.5,268.5 C1525.9,267.9 1532.1,267.2 1537.3,266.6 C1542.6,266.1 1548.3,265.4 1553.1,265.1 C1557.9,264.7 1563.5,264.4 1566.2,264.5 C1569.0,264.7 1568.9,264.5 1569.7,265.8 C1570.4,267.2 1570.6,270.2 1571.0,272.4 C1571.4,274.6 1571.7,281.2 1572.0,279.0 C1572.4,276.8 1572.8,263.9 1573.1,259.3 C1573.4,254.7 1573.5,251.4 1573.9,251.4 C1574.3,251.4 1574.5,257.9 1575.4,259.3 C1576.4,260.7 1577.0,260.0 1579.4,259.8 C1581.8,259.6 1586.4,258.6 1589.9,258.0 C1593.4,257.3 1597.3,256.4 1600.4,256.1 C1603.5,255.8 1606.1,255.6 1608.3,256.1 C1610.5,256.6 1611.8,257.0 1613.6,259.3 C1615.3,261.6 1617.1,266.1 1618.8,269.8 C1620.6,273.5 1622.3,278.8 1624.1,281.6 C1625.8,284.5 1627.1,286.4 1629.3,286.9 C1631.5,287.3 1634.1,285.6 1637.2,284.2 C1640.3,282.9 1643.8,280.4 1647.7,279.0 C1651.7,277.5 1656.5,276.4 1660.9,275.6 C1665.3,274.7 1669.6,274.3 1674.0,273.7 C1678.4,273.1 1682.8,272.5 1687.2,271.9 C1691.5,271.3 1694.3,270.8 1700.3,270.3 C1706.3,269.8 1717.1,269.2 1723.1,268.7 C1729.1,268.3 1731.9,268.2 1736.3,267.7 C1740.7,267.2 1745.1,266.5 1749.4,265.8 C1753.8,265.2 1758.2,264.9 1762.6,264.0 C1767.0,263.1 1771.3,261.8 1775.7,260.6 C1780.1,259.4 1785.4,257.8 1788.9,256.6 C1792.4,255.5 1794.3,254.5 1796.8,253.5 C1799.2,252.5 1801.6,251.2 1803.3,250.9 C1805.1,250.5 1806.0,250.4 1807.3,251.4 C1808.6,252.4 1809.9,254.0 1811.2,256.6 C1812.5,259.3 1813.8,263.7 1815.2,267.2 C1816.5,270.7 1817.6,275.5 1819.1,277.7 C1820.6,279.9 1821.9,280.2 1824.4,280.3 C1826.8,280.4 1829.8,279.3 1833.6,278.5 C1837.3,277.6 1842.8,276.1 1846.7,275.0 C1850.6,274.0 1854.8,273.2 1857.2,272.4 C1859.7,271.6 1860.5,272.7 1861.4,270.3 C1862.3,267.9 1862.2,256.7 1862.5,258.0 C1862.8,259.2 1863.0,272.6 1863.3,277.7 C1863.5,282.7 1863.5,288.6 1863.8,288.2 C1864.1,287.8 1864.4,277.9 1865.1,275.0 C1865.8,272.2 1865.5,272.2 1867.7,271.1 C1869.9,270.0 1874.7,269.4 1878.2,268.5 C1881.7,267.6 1885.3,266.6 1888.8,265.8 C1892.3,265.1 1895.8,264.6 1899.3,264.0 C1902.8,263.4 1906.3,262.9 1909.8,262.4 C1913.3,262.0 1917.5,261.5 1920.3,261.4 C1923.2,261.3 1925.3,261.0 1926.9,261.9 C1928.4,262.8 1928.4,265.8 1929.5,266.6 C1930.6,267.5 1932.0,266.9 1933.4,267.2 C1934.9,267.4 1937.4,267.8 1938.2,267.9" fill="none" stroke="#86c4ec" stroke-width="2.1" stroke-linejoin="round"/>
<rect x="1498" y="78.4" width="441.5" height="216.6" fill="none" stroke="#444" stroke-width="1.6"/>
<text transform="translate(1896.0,103.6) scale(1,1.06)" font-size="21.5" text-anchor="start" font-weight="normal" fill="#111" style='font-family:"Liberation Sans", Arial, sans-serif;' >iii)</text>
<text transform="translate(1903.5,181.0) scale(1,1.06)" font-size="21.5" text-anchor="start" font-weight="normal" fill="#111" style='font-family:"Liberation Sans", Arial, sans-serif;' >ii)</text>
<text transform="translate(1910.8,250.3) scale(1,1.06)" font-size="21.5" text-anchor="start" font-weight="normal" fill="#111" style='font-family:"Liberation Sans", Arial, sans-serif;' >i)</text>
<text transform="translate(1476.3,327.2) scale(1,1.0)" font-size="21.5" text-anchor="start" font-weight="normal" fill="#1a1a1a" style='font-family:"Liberation Sans", Arial, sans-serif;' >−30</text>
<text transform="translate(1549.8,327.2) scale(1,1.0)" font-size="21.5" text-anchor="start" font-weight="normal" fill="#1a1a1a" style='font-family:"Liberation Sans", Arial, sans-serif;' >−20</text>
<text transform="translate(1623.6,327.2) scale(1,1.0)" font-size="21.5" text-anchor="start" font-weight="normal" fill="#1a1a1a" style='font-family:"Liberation Sans", Arial, sans-serif;' >−10</text>
<text transform="translate(1718.4,327.2) scale(1,1.0)" font-size="21.5" text-anchor="middle" font-weight="normal" fill="#1a1a1a" style='font-family:"Liberation Sans", Arial, sans-serif;' >0</text>
<text transform="translate(1792.0,327.2) scale(1,1.0)" font-size="21.5" text-anchor="middle" font-weight="normal" fill="#1a1a1a" style='font-family:"Liberation Sans", Arial, sans-serif;' >10</text>
<text transform="translate(1865.6,327.2) scale(1,1.0)" font-size="21.5" text-anchor="middle" font-weight="normal" fill="#1a1a1a" style='font-family:"Liberation Sans", Arial, sans-serif;' >20</text>
<text transform="translate(1939.2,327.2) scale(1,1.0)" font-size="21.5" text-anchor="middle" font-weight="normal" fill="#1a1a1a" style='font-family:"Liberation Sans", Arial, sans-serif;' >30</text>
<text transform="translate(1633.0,357.2) scale(1,1.06)" font-size="22.8" text-anchor="start" font-weight="normal" fill="#111" style='font-family:"Liberation Sans", Arial, sans-serif;' >Incidence angle <tspan font-family="Liberation Serif, serif" font-style="italic">α</tspan></text>
<text transform="translate(1443.4,185.3) rotate(-90)" font-size="23" text-anchor="middle" fill="#111" style='font-family:"Liberation Sans", Arial, sans-serif'>Circular polarization</text>
<text transform="translate(1469.8,186.1) rotate(-90)" font-size="23" text-anchor="middle" fill="#111" style='font-family:"Liberation Sans", Arial, sans-serif'>differential transmittance</text>

<text transform="translate(1438.8,405.9) scale(1.07,1)" font-size="40" font-weight="bold" fill="#000" style='font-family:"Liberation Sans", Arial, sans-serif'>D</text>
<polyline points="1567,424.7 1438.8,424.7 1438.8,567" fill="none" stroke="#444" stroke-width="1.5"/>
<text transform="translate(1489.2,479.4) scale(1,1.06)" font-size="22.5" text-anchor="start" font-weight="normal" fill="#111" style='font-family:"Liberation Sans", Arial, sans-serif;' >Mode A</text>
<text transform="translate(1761.0,479.4) scale(1,1.06)" font-size="22.5" text-anchor="start" font-weight="normal" fill="#111" style='font-family:"Liberation Sans", Arial, sans-serif;' >Mode B</text>
<text transform="translate(1489.2,521.8) scale(1,1.06)" font-size="22.5" text-anchor="start" font-weight="normal" fill="#111" style='font-family:"Liberation Sans", Arial, sans-serif;' >L exc.</text>
<text transform="translate(1761.0,518.8) scale(1,1.06)" font-size="22.5" text-anchor="start" font-weight="normal" fill="#111" style='font-family:"Liberation Sans", Arial, sans-serif;' >L exc.</text>
<text transform="translate(1490.4,704.0) scale(1,1.06)" font-size="22.5" text-anchor="start" font-weight="normal" fill="#111" style='font-family:"Liberation Sans", Arial, sans-serif;' >R exc.</text>
<text transform="translate(1762.0,704.0) scale(1,1.06)" font-size="22.5" text-anchor="start" font-weight="normal" fill="#111" style='font-family:"Liberation Sans", Arial, sans-serif;' >R exc.</text>
<defs>
<linearGradient id="slabg" gradientUnits="objectBoundingBox" x1="0.15" y1="0.25" x2="0.75" y2="0.85">
<stop offset="0" stop-color="#e8dc1c"/><stop offset="0.28" stop-color="#c6d626"/><stop offset="0.5" stop-color="#62b438"/><stop offset="0.75" stop-color="#34a03a"/><stop offset="1" stop-color="#4aa838"/></linearGradient>
<radialGradient id="yel" cx="0.5" cy="0.5" r="0.5"><stop offset="0" stop-color="#f2b414"/><stop offset="0.5" stop-color="#f0dc18" stop-opacity="0.9"/><stop offset="1" stop-color="#e8e020" stop-opacity="0"/></radialGradient>
<radialGradient id="grn" cx="0.5" cy="0.5" r="0.5"><stop offset="0" stop-color="#23903a"/><stop offset="1" stop-color="#2f9a3a" stop-opacity="0"/></radialGradient>
<filter id="dsoft" x="-20%" y="-20%" width="140%" height="140%"><feGaussianBlur stdDeviation="2"/></filter>
<filter id="dsoft4" filterUnits="userSpaceOnUse" x="1400" y="380" width="593" height="495"><feGaussianBlur stdDeviation="4"/></filter>
</defs>
<g><clipPath id="slabAL"><polygon points="1500.6,575.2 1632.0,532.8 1704.8,607.7 1572.3,659.9"/></clipPath><polygon points="1500.6,575.2 1632.0,532.8 1704.8,607.7 1572.3,659.9" fill="#b4d02c"/><g clip-path="url(#slabAL)"><g filter="url(#dsoft4)"><polygon points="1500.6,575.2 1632.0,532.8 1658.1,562.1 1534.3,596.9" fill="#d6dc20"/><polygon points="1532.1,586.0 1577.3,573.0 1597.3,592.1 1654.2,574.7 1705.9,608.8 1572.3,662.0 1526.7,601.2" fill="#48aa3a"/><polygon points="1654.2,574.7 1705.9,608.8 1688.5,612.1 1671.1,592.5" fill="#7cbc34"/></g></g><polygon points="1500.6,575.2 1572.3,659.9 1704.8,607.7 1704.8,612.1 1572.3,664.6 1500.6,579.1" fill="#b8cc28"/><ellipse cx="1543.0" cy="570.8" rx="32.6" ry="11.9" fill="url(#yel)" transform="rotate(-18 1543.0 570.8)"/><ellipse cx="1632.0" cy="560.0" rx="26.1" ry="13.0" fill="url(#yel)" transform="rotate(-18 1632.0 560.0)"/><ellipse cx="1610.3" cy="614.3" rx="56.5" ry="23.9" fill="url(#grn)" transform="rotate(-18 1610.3 614.3)"/><path d="M1499.5,562.1 L1632.0,519.8 M1632.0,519.8 L1704.2,605.6 M1704.2,605.6 L1571.2,647.9 M1571.2,647.9 L1499.5,562.1 M1499.5,562.1 L1499.5,588.2 M1571.2,647.9 L1571.2,674.0 M1704.2,605.6 L1704.2,629.0 M1499.5,588.2 L1571.2,674.0 M1571.2,674.0 L1704.2,629.0 M1534.3,584.9 L1577.3,572.6 M1577.3,572.6 L1597.3,591.5 M1597.3,591.5 L1654.2,574.1 M1654.2,574.1 L1678.7,601.7 M1678.7,601.7 L1575.6,636.0 M1575.6,636.0 L1534.3,584.9 M1534.3,584.9 L1534.3,598.6 M1575.6,636.0 L1575.6,649.0 M1678.7,601.7 L1678.7,614.7 M1597.3,591.5 L1597.3,605.6 M1577.3,572.6 L1578.2,582.8 M1654.2,574.1 L1654.6,583.8 M1575.6,662.0 L1677.7,628.4 M1575.6,659.4 L1575.6,662.7 M1677.7,626.2 L1677.7,629.0" stroke="#111" stroke-width="1.3" fill="none"/><line x1="1598.4" y1="568.6" x2="1598.4" y2="541.6" stroke="#c01018" stroke-width="2.4" stroke-linecap="round"/><polygon points="1598.4,535.0 1601.6,541.6 1595.2,541.6" fill="#c81018"/><line x1="1577.7" y1="571.9" x2="1550.5" y2="554.0" stroke="#c01018" stroke-width="3.3" stroke-linecap="round"/><polygon points="1543.0,549.1 1552.9,550.4 1548.1,557.7" fill="#c81018"/><line x1="1551.7" y1="562.1" x2="1528.0" y2="562.9" stroke="#c01018" stroke-width="2.9" stroke-linecap="round"/><polygon points="1520.2,563.2 1527.8,559.2 1528.1,566.7" fill="#c81018"/><line x1="1592.9" y1="592.5" x2="1614.9" y2="580.8" stroke="#c01018" stroke-width="4.4" stroke-linecap="round"/><polygon points="1625.5,575.2 1617.7,585.9 1612.2,575.7" fill="#c81018"/><line x1="1582.1" y1="576.2" x2="1601.5" y2="580.0" stroke="#c01018" stroke-width="3.3" stroke-linecap="round"/><polygon points="1610.3,581.7 1600.7,584.2 1602.3,575.7" fill="#c81018"/><line x1="1653.8" y1="601.2" x2="1679.5" y2="577.2" stroke="#c01018" stroke-width="2.9" stroke-linecap="round"/><polygon points="1685.3,571.9 1682.1,580.0 1677.0,574.5" fill="#c81018"/><line x1="1664.6" y1="595.8" x2="1685.4" y2="585.0" stroke="#c01018" stroke-width="2.6" stroke-linecap="round"/><polygon points="1691.8,581.7 1687.0,588.1 1683.8,581.9" fill="#c81018"/><line x1="1671.1" y1="596.9" x2="1712.6" y2="597.8" stroke="#c01018" stroke-width="3.5" stroke-linecap="round"/><polygon points="1722.2,598.0 1712.5,602.4 1712.7,593.1" fill="#c81018"/><line x1="1684.2" y1="593.6" x2="1707.8" y2="594.7" stroke="#c01018" stroke-width="3.3" stroke-linecap="round"/><polygon points="1716.8,595.1 1707.6,599.1 1708.0,590.4" fill="#c81018"/><line x1="1658.1" y1="614.3" x2="1698.3" y2="604.2" stroke="#c01018" stroke-width="2.9" stroke-linecap="round"/><polygon points="1705.9,602.3 1699.2,607.9 1697.4,600.5" fill="#c81018"/><line x1="1584.3" y1="627.3" x2="1638.3" y2="608.0" stroke="#c01018" stroke-width="2.6" stroke-linecap="round"/><polygon points="1645.1,605.6 1639.5,611.3 1637.1,604.7" fill="#c81018"/><line x1="1592.9" y1="638.1" x2="1646.6" y2="615.2" stroke="#c01018" stroke-width="2.9" stroke-linecap="round"/><polygon points="1653.8,612.1 1648.1,618.6 1645.1,611.7" fill="#c81018"/><line x1="1610.3" y1="631.6" x2="1657.2" y2="607.3" stroke="#c01018" stroke-width="3.1" stroke-linecap="round"/><polygon points="1664.6,603.4 1659.0,610.9 1655.3,603.7" fill="#c81018"/><line x1="1621.2" y1="622.9" x2="1651.9" y2="604.9" stroke="#c01018" stroke-width="2.6" stroke-linecap="round"/><polygon points="1658.1,601.2 1653.7,607.9 1650.1,601.9" fill="#c81018"/><line x1="1601.6" y1="640.3" x2="1630.5" y2="625.9" stroke="#c01018" stroke-width="2.4" stroke-linecap="round"/><polygon points="1636.4,622.9 1631.9,628.8 1629.1,623.0" fill="#c81018"/><line x1="1525.6" y1="608.8" x2="1510.4" y2="618.7" stroke="#c01018" stroke-width="2.9" stroke-linecap="round"/><polygon points="1503.9,622.9 1508.4,615.5 1512.5,621.9" fill="#c81018"/><line x1="1532.1" y1="618.6" x2="1524.0" y2="618.6" stroke="#c01018" stroke-width="2.2" stroke-linecap="round"/><polygon points="1518.0,618.6 1524.0,615.7 1524.0,621.5" fill="#c81018"/><line x1="1584.3" y1="654.4" x2="1599.0" y2="661.7" stroke="#c01018" stroke-width="2.4" stroke-linecap="round"/><polygon points="1604.9,664.6 1597.6,664.6 1600.4,658.9" fill="#c81018"/><line x1="1627.7" y1="532.8" x2="1628.8" y2="527.3" stroke="#c01018" stroke-width="1.8" stroke-linecap="round"/><polygon points="1629.9,521.9 1631.3,527.8 1626.2,526.8" fill="#c81018"/><line x1="1523.4" y1="573.0" x2="1528.7" y2="577.2" stroke="#c01018" stroke-width="2.6" stroke-linecap="round"/><polygon points="1534.3,581.7 1526.5,579.9 1530.9,574.5" fill="#c81018"/><line x1="1632.0" y1="612.1" x2="1641.2" y2="601.4" stroke="#c01018" stroke-width="2.2" stroke-linecap="round"/><polygon points="1645.1,596.9 1643.4,603.3 1639.0,599.5" fill="#c81018"/><line x1="1675.5" y1="605.6" x2="1695.0" y2="608.8" stroke="#c01018" stroke-width="2.4" stroke-linecap="round"/><polygon points="1701.5,609.9 1694.5,612.0 1695.6,605.7" fill="#c81018"/><line x1="1562.5" y1="644.7" x2="1568.2" y2="636.2" stroke="#c01018" stroke-width="1.8" stroke-linecap="round"/><polygon points="1571.2,631.6 1570.3,637.7 1566.0,634.8" fill="#c81018"/></g>
<g><clipPath id="slabBL"><polygon points="1775.0,574.9 1906.4,532.5 1979.2,607.4 1846.7,659.6"/></clipPath><polygon points="1775.0,574.9 1906.4,532.5 1979.2,607.4 1846.7,659.6" fill="#b4d02c"/><g clip-path="url(#slabBL)"><g filter="url(#dsoft4)"><polygon points="1775.0,574.9 1906.4,532.5 1932.5,561.8 1808.7,596.6" fill="#d6dc20"/><polygon points="1806.5,585.7 1851.7,572.7 1871.7,591.8 1928.6,574.4 1980.3,608.5 1846.7,661.7 1801.1,600.9" fill="#48aa3a"/><polygon points="1928.6,574.4 1980.3,608.5 1962.9,611.8 1945.5,592.2" fill="#7cbc34"/></g></g><polygon points="1775.0,574.9 1846.7,659.6 1979.2,607.4 1979.2,611.8 1846.7,664.3 1775.0,578.8" fill="#b8cc28"/><ellipse cx="1839.7" cy="569.6" rx="44.6" ry="12.3" fill="url(#yel)" transform="rotate(-18 1839.7 569.6)"/><ellipse cx="1899.9" cy="560.7" rx="26.7" ry="8.9" fill="url(#yel)" transform="rotate(-18 1899.9 560.7)"/><ellipse cx="1884.7" cy="614.0" rx="57.9" ry="24.5" fill="url(#grn)" transform="rotate(-18 1884.7 614.0)"/><path d="M1773.9,561.8 L1906.4,519.5 M1906.4,519.5 L1978.6,605.3 M1978.6,605.3 L1845.6,647.6 M1845.6,647.6 L1773.9,561.8 M1773.9,561.8 L1773.9,587.9 M1845.6,647.6 L1845.6,673.7 M1978.6,605.3 L1978.6,628.7 M1773.9,587.9 L1845.6,673.7 M1845.6,673.7 L1978.6,628.7 M1808.7,584.6 L1851.7,572.3 M1851.7,572.3 L1871.7,591.2 M1871.7,591.2 L1928.6,573.8 M1928.6,573.8 L1953.1,601.4 M1953.1,601.4 L1850.0,635.7 M1850.0,635.7 L1808.7,584.6 M1808.7,584.6 L1808.7,598.3 M1850.0,635.7 L1850.0,648.7 M1953.1,601.4 L1953.1,614.4 M1871.7,591.2 L1871.7,605.3 M1851.7,572.3 L1852.6,582.5 M1928.6,573.8 L1929.0,583.5 M1850.0,661.7 L1952.1,628.1 M1850.0,659.1 L1850.0,662.4 M1952.1,625.9 L1952.1,628.7" stroke="#111" stroke-width="1.3" fill="none"/><line x1="1795.1" y1="569.6" x2="1830.6" y2="581.5" stroke="#c01018" stroke-width="3.1" stroke-linecap="round"/><polygon points="1838.6,584.1 1829.3,585.3 1831.9,577.6" fill="#c81018"/><line x1="1810.7" y1="565.2" x2="1822.9" y2="569.8" stroke="#c01018" stroke-width="2.2" stroke-linecap="round"/><polygon points="1828.5,571.9 1821.9,572.5 1823.9,567.0" fill="#c81018"/><line x1="1866.4" y1="558.5" x2="1881.3" y2="563.2" stroke="#c01018" stroke-width="2.9" stroke-linecap="round"/><polygon points="1888.7,565.6 1880.1,566.8 1882.4,559.7" fill="#c81018"/><line x1="1875.3" y1="568.5" x2="1889.9" y2="570.7" stroke="#c01018" stroke-width="2.9" stroke-linecap="round"/><polygon points="1897.6,571.9 1889.4,574.4 1890.5,567.0" fill="#c81018"/><line x1="1888.7" y1="563.4" x2="1903.4" y2="566.3" stroke="#c01018" stroke-width="2.9" stroke-linecap="round"/><polygon points="1911.0,567.8 1902.6,570.0 1904.1,562.6" fill="#c81018"/><line x1="1899.9" y1="571.9" x2="1914.2" y2="573.2" stroke="#c01018" stroke-width="3.7" stroke-linecap="round"/><polygon points="1924.4,574.1 1913.8,578.1 1914.7,568.3" fill="#c81018"/><line x1="1879.8" y1="580.8" x2="1940.4" y2="573.2" stroke="#c01018" stroke-width="4.0" stroke-linecap="round"/><polygon points="1951.1,571.9 1941.1,578.4 1939.8,568.0" fill="#c81018"/><line x1="1933.3" y1="564.1" x2="1949.0" y2="566.9" stroke="#c01018" stroke-width="3.3" stroke-linecap="round"/><polygon points="1957.8,568.5 1948.2,571.2 1949.7,562.6" fill="#c81018"/><line x1="1940.0" y1="571.9" x2="1960.1" y2="574.9" stroke="#c01018" stroke-width="3.3" stroke-linecap="round"/><polygon points="1969.0,576.3 1959.4,579.2 1960.7,570.6" fill="#c81018"/><line x1="1948.9" y1="583.0" x2="1955.2" y2="583.6" stroke="#c01018" stroke-width="2.2" stroke-linecap="round"/><polygon points="1961.2,584.1 1954.9,586.5 1955.4,580.7" fill="#c81018"/><line x1="1859.7" y1="652.1" x2="1878.0" y2="658.4" stroke="#c01018" stroke-width="2.9" stroke-linecap="round"/><polygon points="1885.4,661.0 1876.8,662.0 1879.2,654.9" fill="#c81018"/><line x1="1877.6" y1="647.6" x2="1896.6" y2="659.5" stroke="#c01018" stroke-width="2.9" stroke-linecap="round"/><polygon points="1903.2,663.7 1894.6,662.7 1898.6,656.3" fill="#c81018"/><line x1="1893.2" y1="643.2" x2="1908.4" y2="654.8" stroke="#c01018" stroke-width="2.4" stroke-linecap="round"/><polygon points="1913.7,658.8 1906.5,657.3 1910.4,652.2" fill="#c81018"/><line x1="1911.0" y1="638.7" x2="1920.4" y2="644.5" stroke="#c01018" stroke-width="2.2" stroke-linecap="round"/><polygon points="1925.5,647.6 1918.9,647.0 1921.9,642.0" fill="#c81018"/><line x1="1928.8" y1="632.0" x2="1935.2" y2="635.7" stroke="#c01018" stroke-width="2.2" stroke-linecap="round"/><polygon points="1940.4,638.7 1933.8,638.2 1936.7,633.2" fill="#c81018"/><line x1="1944.4" y1="626.5" x2="1948.9" y2="628.7" stroke="#c01018" stroke-width="2.0" stroke-linecap="round"/><polygon points="1953.8,631.1 1947.7,631.0 1950.0,626.3" fill="#c81018"/><line x1="1893.2" y1="536.2" x2="1913.3" y2="527.1" stroke="#c01018" stroke-width="2.2" stroke-linecap="round"/><polygon points="1918.8,524.6 1914.5,529.7 1912.1,524.4" fill="#c81018"/><line x1="1969.0" y1="609.7" x2="1980.9" y2="607.5" stroke="#c01018" stroke-width="2.2" stroke-linecap="round"/><polygon points="1986.8,606.4 1981.4,610.4 1980.3,604.7" fill="#c81018"/><line x1="1828.5" y1="596.4" x2="1847.2" y2="593.0" stroke="#c01018" stroke-width="2.2" stroke-linecap="round"/><polygon points="1853.1,591.9 1847.7,595.8 1846.6,590.1" fill="#c81018"/><line x1="1844.1" y1="612.0" x2="1849.9" y2="610.8" stroke="#c01018" stroke-width="1.8" stroke-linecap="round"/><polygon points="1855.3,609.7 1850.4,613.4 1849.4,608.3" fill="#c81018"/><line x1="1821.9" y1="571.9" x2="1846.4" y2="581.5" stroke="#c01018" stroke-width="2.6" stroke-linecap="round"/><polygon points="1853.1,584.1 1845.1,584.7 1847.6,578.2" fill="#c81018"/></g>
<g><clipPath id="slabAR"><polygon points="1501.1,756.7 1632.5,714.3 1705.3,789.2 1572.8,841.4"/></clipPath><polygon points="1501.1,756.7 1632.5,714.3 1705.3,789.2 1572.8,841.4" fill="#b4d02c"/><g clip-path="url(#slabAR)"><g filter="url(#dsoft4)"><polygon points="1501.1,756.7 1632.5,714.3 1658.6,743.6 1534.8,778.4" fill="#d6dc20"/><polygon points="1532.6,767.5 1577.8,754.5 1597.8,773.6 1654.7,756.2 1706.4,790.3 1572.8,843.5 1527.2,782.7" fill="#48aa3a"/><polygon points="1654.7,756.2 1706.4,790.3 1689.0,793.6 1671.6,774.0" fill="#7cbc34"/></g></g><polygon points="1501.1,756.7 1572.8,841.4 1705.3,789.2 1705.3,793.6 1572.8,846.1 1501.1,760.6" fill="#b8cc28"/><ellipse cx="1539.2" cy="753.4" rx="33.8" ry="11.6" fill="url(#yel)" transform="rotate(-18 1539.2 753.4)"/><ellipse cx="1615.3" cy="742.8" rx="27.5" ry="12.7" fill="url(#yel)" transform="rotate(-18 1615.3 742.8)"/><ellipse cx="1610.8" cy="795.8" rx="55.0" ry="23.3" fill="url(#grn)" transform="rotate(-18 1610.8 795.8)"/><path d="M1500.0,743.6 L1632.5,701.3 M1632.5,701.3 L1704.7,787.1 M1704.7,787.1 L1571.7,829.4 M1571.7,829.4 L1500.0,743.6 M1500.0,743.6 L1500.0,769.7 M1571.7,829.4 L1571.7,855.5 M1704.7,787.1 L1704.7,810.5 M1500.0,769.7 L1571.7,855.5 M1571.7,855.5 L1704.7,810.5 M1534.8,766.4 L1577.8,754.1 M1577.8,754.1 L1597.8,773.0 M1597.8,773.0 L1654.7,755.6 M1654.7,755.6 L1679.2,783.2 M1679.2,783.2 L1576.1,817.5 M1576.1,817.5 L1534.8,766.4 M1534.8,766.4 L1534.8,780.1 M1576.1,817.5 L1576.1,830.5 M1679.2,783.2 L1679.2,796.2 M1597.8,773.0 L1597.8,787.1 M1577.8,754.1 L1578.7,764.3 M1654.7,755.6 L1655.1,765.3 M1576.1,843.5 L1678.2,809.9 M1576.1,840.9 L1576.1,844.2 M1678.2,807.7 L1678.2,810.5" stroke="#111" stroke-width="1.3" fill="none"/><line x1="1530.7" y1="774.5" x2="1514.3" y2="805.7" stroke="#c01018" stroke-width="3.7" stroke-linecap="round"/><polygon points="1509.6,814.7 1510.0,803.4 1518.7,808.0" fill="#c81018"/><line x1="1535.0" y1="802.0" x2="1526.7" y2="819.3" stroke="#c01018" stroke-width="2.9" stroke-linecap="round"/><polygon points="1523.3,826.3 1523.3,817.7 1530.1,820.9" fill="#c81018"/><line x1="1543.4" y1="811.5" x2="1542.4" y2="817.7" stroke="#c01018" stroke-width="2.4" stroke-linecap="round"/><polygon points="1541.3,824.2 1539.2,817.2 1545.5,818.2" fill="#c81018"/><line x1="1503.3" y1="759.8" x2="1503.3" y2="781.7" stroke="#c01018" stroke-width="2.2" stroke-linecap="round"/><polygon points="1503.3,787.7 1500.4,781.7 1506.2,781.7" fill="#c81018"/><line x1="1568.8" y1="751.3" x2="1562.0" y2="726.0" stroke="#c01018" stroke-width="2.4" stroke-linecap="round"/><polygon points="1560.3,719.6 1565.1,725.1 1558.9,726.8" fill="#c81018"/><line x1="1575.1" y1="745.4" x2="1572.5" y2="735.5" stroke="#c01018" stroke-width="2.4" stroke-linecap="round"/><polygon points="1570.9,729.1 1575.6,734.7 1569.5,736.3" fill="#c81018"/><line x1="1581.5" y1="730.2" x2="1586.7" y2="722.1" stroke="#c01018" stroke-width="2.2" stroke-linecap="round"/><polygon points="1589.9,717.1 1589.1,723.7 1584.2,720.5" fill="#c81018"/><line x1="1554.0" y1="740.3" x2="1537.4" y2="738.4" stroke="#c01018" stroke-width="2.9" stroke-linecap="round"/><polygon points="1529.7,737.6 1537.8,734.7 1537.0,742.2" fill="#c81018"/><line x1="1579.3" y1="773.5" x2="1561.2" y2="774.6" stroke="#c01018" stroke-width="2.6" stroke-linecap="round"/><polygon points="1554.0,775.0 1561.0,771.1 1561.4,778.0" fill="#c81018"/><line x1="1601.5" y1="776.7" x2="1587.1" y2="778.0" stroke="#c01018" stroke-width="2.9" stroke-linecap="round"/><polygon points="1579.3,778.8 1586.8,774.3 1587.5,781.8" fill="#c81018"/><line x1="1615.3" y1="764.0" x2="1591.6" y2="766.9" stroke="#c01018" stroke-width="3.7" stroke-linecap="round"/><polygon points="1581.5,768.2 1591.0,762.1 1592.2,771.8" fill="#c81018"/><line x1="1606.8" y1="762.9" x2="1634.3" y2="752.4" stroke="#c01018" stroke-width="3.3" stroke-linecap="round"/><polygon points="1642.8,749.2 1635.9,756.5 1632.8,748.3" fill="#c81018"/><line x1="1623.7" y1="761.9" x2="1651.6" y2="747.9" stroke="#c01018" stroke-width="3.3" stroke-linecap="round"/><polygon points="1659.7,743.9 1653.6,751.8 1649.7,744.0" fill="#c81018"/><line x1="1642.8" y1="770.3" x2="1641.9" y2="765.8" stroke="#c01018" stroke-width="2.6" stroke-linecap="round"/><polygon points="1640.6,758.7 1645.4,765.2 1638.5,766.4" fill="#c81018"/><line x1="1588.9" y1="838.0" x2="1589.7" y2="859.3" stroke="#c01018" stroke-width="2.4" stroke-linecap="round"/><polygon points="1589.9,865.9 1586.5,859.4 1592.9,859.1" fill="#c81018"/><line x1="1598.4" y1="833.7" x2="1594.3" y2="843.4" stroke="#c01018" stroke-width="2.2" stroke-linecap="round"/><polygon points="1592.0,849.0 1591.7,842.3 1597.0,844.5" fill="#c81018"/><line x1="1570.9" y1="842.2" x2="1572.5" y2="865.6" stroke="#c01018" stroke-width="2.4" stroke-linecap="round"/><polygon points="1573.0,872.2 1569.4,865.8 1575.7,865.4" fill="#c81018"/><line x1="1686.1" y1="803.1" x2="1686.7" y2="810.8" stroke="#c01018" stroke-width="2.2" stroke-linecap="round"/><polygon points="1687.1,816.8 1683.8,811.1 1689.6,810.6" fill="#c81018"/><line x1="1701.9" y1="799.9" x2="1702.8" y2="821.4" stroke="#c01018" stroke-width="2.2" stroke-linecap="round"/><polygon points="1703.0,827.4 1699.9,821.5 1705.7,821.3" fill="#c81018"/><line x1="1632.2" y1="740.7" x2="1634.9" y2="738.7" stroke="#c01018" stroke-width="2.6" stroke-linecap="round"/><polygon points="1640.6,734.4 1637.0,741.5 1632.8,735.9" fill="#c81018"/><line x1="1619.5" y1="719.6" x2="1620.9" y2="720.5" stroke="#c01018" stroke-width="2.2" stroke-linecap="round"/><polygon points="1625.8,723.8 1619.2,722.9 1622.5,718.1" fill="#c81018"/></g>
<g><clipPath id="slabBR"><polygon points="1775.2,757.0 1906.6,714.6 1979.4,789.5 1846.9,841.7"/></clipPath><polygon points="1775.2,757.0 1906.6,714.6 1979.4,789.5 1846.9,841.7" fill="#b4d02c"/><g clip-path="url(#slabBR)"><g filter="url(#dsoft4)"><polygon points="1775.2,757.0 1906.6,714.6 1932.7,743.9 1808.9,778.7" fill="#d6dc20"/><polygon points="1806.7,767.8 1851.9,754.8 1871.9,773.9 1928.8,756.5 1980.5,790.6 1846.9,843.8 1801.3,783.0" fill="#48aa3a"/><polygon points="1928.8,756.5 1980.5,790.6 1963.1,793.9 1945.7,774.3" fill="#7cbc34"/></g></g><polygon points="1775.2,757.0 1846.9,841.7 1979.4,789.5 1979.4,793.9 1846.9,846.4 1775.2,760.9" fill="#b8cc28"/><ellipse cx="1818.4" cy="757.6" rx="31.7" ry="12.7" fill="url(#yel)" transform="rotate(-18 1818.4 757.6)"/><ellipse cx="1890.3" cy="753.4" rx="31.7" ry="9.5" fill="url(#yel)" transform="rotate(-18 1890.3 753.4)"/><ellipse cx="1884.9" cy="796.1" rx="55.0" ry="23.3" fill="url(#grn)" transform="rotate(-18 1884.9 796.1)"/><path d="M1774.1,743.9 L1906.6,701.6 M1906.6,701.6 L1978.8,787.4 M1978.8,787.4 L1845.8,829.7 M1845.8,829.7 L1774.1,743.9 M1774.1,743.9 L1774.1,770.0 M1845.8,829.7 L1845.8,855.8 M1978.8,787.4 L1978.8,810.8 M1774.1,770.0 L1845.8,855.8 M1845.8,855.8 L1978.8,810.8 M1808.9,766.7 L1851.9,754.4 M1851.9,754.4 L1871.9,773.3 M1871.9,773.3 L1928.8,755.9 M1928.8,755.9 L1953.3,783.5 M1953.3,783.5 L1850.2,817.8 M1850.2,817.8 L1808.9,766.7 M1808.9,766.7 L1808.9,780.4 M1850.2,817.8 L1850.2,830.8 M1953.3,783.5 L1953.3,796.5 M1871.9,773.3 L1871.9,787.4 M1851.9,754.4 L1852.8,764.6 M1928.8,755.9 L1929.2,765.6 M1850.2,843.8 L1952.3,810.2 M1850.2,841.2 L1850.2,844.5 M1952.3,808.0 L1952.3,810.8" stroke="#111" stroke-width="1.3" fill="none"/><line x1="1790.9" y1="751.3" x2="1819.1" y2="740.7" stroke="#c01018" stroke-width="2.6" stroke-linecap="round"/><polygon points="1825.8,738.2 1820.3,744.0 1817.8,737.5" fill="#c81018"/><line x1="1824.8" y1="738.6" x2="1849.9" y2="732.8" stroke="#c01018" stroke-width="2.6" stroke-linecap="round"/><polygon points="1856.9,731.2 1850.6,736.2 1849.1,729.4" fill="#c81018"/><line x1="1843.8" y1="733.3" x2="1871.5" y2="730.0" stroke="#c01018" stroke-width="2.6" stroke-linecap="round"/><polygon points="1878.7,729.1 1871.9,733.4 1871.1,726.5" fill="#c81018"/><line x1="1850.1" y1="746.0" x2="1875.1" y2="742.8" stroke="#c01018" stroke-width="2.9" stroke-linecap="round"/><polygon points="1882.9,741.8 1875.6,746.5 1874.7,739.0" fill="#c81018"/><line x1="1864.9" y1="740.7" x2="1877.2" y2="741.5" stroke="#c01018" stroke-width="2.6" stroke-linecap="round"/><polygon points="1884.4,742.0 1876.9,745.0 1877.4,738.1" fill="#c81018"/><line x1="1873.4" y1="751.3" x2="1907.6" y2="752.9" stroke="#c01018" stroke-width="3.7" stroke-linecap="round"/><polygon points="1917.8,753.4 1907.3,757.9 1907.8,748.0" fill="#c81018"/><line x1="1881.8" y1="759.8" x2="1925.3" y2="746.4" stroke="#c01018" stroke-width="4.4" stroke-linecap="round"/><polygon points="1936.8,742.8 1927.0,751.9 1923.6,740.8" fill="#c81018"/><line x1="1913.5" y1="749.2" x2="1951.7" y2="732.1" stroke="#c01018" stroke-width="4.6" stroke-linecap="round"/><polygon points="1963.2,727.0 1954.2,737.7 1949.2,726.6" fill="#c81018"/><line x1="1924.1" y1="743.9" x2="1961.8" y2="742.3" stroke="#c01018" stroke-width="4.4" stroke-linecap="round"/><polygon points="1973.8,741.8 1962.0,748.1 1961.5,736.5" fill="#c81018"/><line x1="1915.6" y1="753.4" x2="1944.7" y2="751.8" stroke="#c01018" stroke-width="3.3" stroke-linecap="round"/><polygon points="1953.7,751.3 1944.9,756.1 1944.5,747.5" fill="#c81018"/><line x1="1801.5" y1="789.3" x2="1832.4" y2="775.5" stroke="#c01018" stroke-width="3.7" stroke-linecap="round"/><polygon points="1841.7,771.4 1834.4,780.0 1830.3,771.0" fill="#c81018"/><line x1="1810.0" y1="798.9" x2="1836.4" y2="789.2" stroke="#c01018" stroke-width="3.3" stroke-linecap="round"/><polygon points="1844.8,786.2 1837.9,793.3 1834.9,785.2" fill="#c81018"/><line x1="1818.4" y1="808.4" x2="1836.8" y2="803.8" stroke="#c01018" stroke-width="2.6" stroke-linecap="round"/><polygon points="1843.8,802.0 1837.6,807.1 1835.9,800.4" fill="#c81018"/><line x1="1843.8" y1="842.2" x2="1887.6" y2="825.9" stroke="#c01018" stroke-width="2.9" stroke-linecap="round"/><polygon points="1894.9,823.2 1888.9,829.4 1886.3,822.3" fill="#c81018"/><line x1="1873.4" y1="833.7" x2="1897.1" y2="820.4" stroke="#c01018" stroke-width="2.6" stroke-linecap="round"/><polygon points="1903.4,816.8 1898.8,823.4 1895.4,817.3" fill="#c81018"/><line x1="1903.0" y1="821.1" x2="1935.0" y2="815.9" stroke="#c01018" stroke-width="2.6" stroke-linecap="round"/><polygon points="1942.1,814.7 1935.5,819.3 1934.4,812.4" fill="#c81018"/><line x1="1962.1" y1="799.9" x2="1981.8" y2="793.4" stroke="#c01018" stroke-width="2.2" stroke-linecap="round"/><polygon points="1987.5,791.5 1982.7,796.1 1980.9,790.6" fill="#c81018"/><line x1="1903.0" y1="713.3" x2="1914.0" y2="710.5" stroke="#c01018" stroke-width="2.2" stroke-linecap="round"/><polygon points="1919.9,709.0 1914.8,713.3 1913.3,707.7" fill="#c81018"/><line x1="1898.7" y1="721.7" x2="1901.3" y2="730.7" stroke="#c01018" stroke-width="2.2" stroke-linecap="round"/><polygon points="1903.0,736.5 1898.5,731.5 1904.1,729.9" fill="#c81018"/></g>

</svg></body></html>
